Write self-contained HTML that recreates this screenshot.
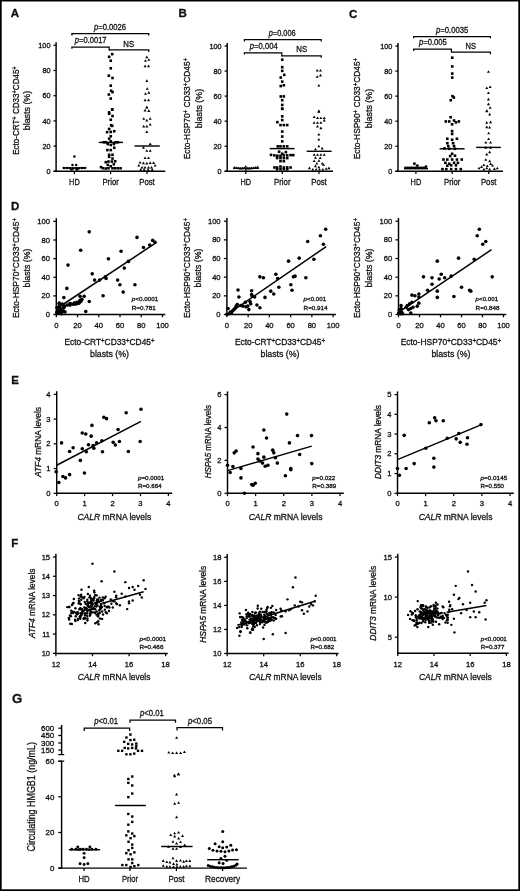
<!DOCTYPE html>
<html><head><meta charset="utf-8"><style>
html,body{margin:0;padding:0;background:#fff;}
svg{display:block;}
text{font-family:"Liberation Sans", sans-serif;fill:#111;stroke:#111;stroke-width:0.3px;}
</style></head><body>
<svg width="520" height="891" viewBox="0 0 520 891">
<defs><filter id="bl" x="0" y="0" width="1" height="1"><feGaussianBlur stdDeviation="0.22"/></filter></defs><rect width="520" height="891" fill="#fff"/>
<g filter="url(#bl)"><rect x="0" y="0" width="520" height="1.5" fill="#000"/>
<rect x="0" y="0" width="1.7" height="891" fill="#000"/>
<rect x="518.3" y="0" width="1.7" height="891" fill="#000"/>
<rect x="0" y="889.3" width="520" height="1.7" fill="#000"/>
<text x="10.8" y="17.3" font-size="11.5" font-weight="bold">A</text>
<text x="178.6" y="17.3" font-size="11.5" font-weight="bold">B</text>
<text x="349" y="17.5" font-size="11.5" font-weight="bold">C</text>
<text x="11" y="210.4" font-size="11.5" font-weight="bold">D</text>
<text x="11.2" y="383.9" font-size="11.5" font-weight="bold">E</text>
<text x="11.2" y="546.5" font-size="11.5" font-weight="bold">F</text>
<text x="12" y="702.8" font-size="13.2" font-weight="bold">G</text>
<line x1="56.1" y1="42.3" x2="56.1" y2="171.8" stroke="#000" stroke-width="1.45"/>
<line x1="53.5" y1="171.3" x2="165.3" y2="171.3" stroke="#000" stroke-width="1.45"/>
<line x1="53.5" y1="171.3" x2="56.1" y2="171.3" stroke="#000" stroke-width="1.25"/>
<text x="50.5" y="173.9" font-size="7.3" text-anchor="end">0</text>
<line x1="53.5" y1="146.1" x2="56.1" y2="146.1" stroke="#000" stroke-width="1.25"/>
<text x="50.5" y="148.7" font-size="7.3" text-anchor="end">20</text>
<line x1="53.5" y1="120.9" x2="56.1" y2="120.9" stroke="#000" stroke-width="1.25"/>
<text x="50.5" y="123.5" font-size="7.3" text-anchor="end">40</text>
<line x1="53.5" y1="95.7" x2="56.1" y2="95.7" stroke="#000" stroke-width="1.25"/>
<text x="50.5" y="98.3" font-size="7.3" text-anchor="end">60</text>
<line x1="53.5" y1="70.5" x2="56.1" y2="70.5" stroke="#000" stroke-width="1.25"/>
<text x="50.5" y="73.1" font-size="7.3" text-anchor="end">80</text>
<line x1="53.5" y1="45.3" x2="56.1" y2="45.3" stroke="#000" stroke-width="1.25"/>
<text x="50.5" y="47.9" font-size="7.3" text-anchor="end">100</text>
<line x1="74.4" y1="171.3" x2="74.4" y2="174.1" stroke="#000" stroke-width="1.25"/>
<text x="74.4" y="184.5" font-size="9.4" text-anchor="middle" textLength="10.6" lengthAdjust="spacingAndGlyphs">HD</text>
<line x1="110.6" y1="171.3" x2="110.6" y2="174.1" stroke="#000" stroke-width="1.25"/>
<text x="110.6" y="184.5" font-size="9.4" text-anchor="middle" textLength="16.4" lengthAdjust="spacingAndGlyphs">Prior</text>
<line x1="147" y1="171.3" x2="147" y2="174.1" stroke="#000" stroke-width="1.25"/>
<text x="147" y="184.5" font-size="9.4" text-anchor="middle" textLength="15.6" lengthAdjust="spacingAndGlyphs">Post</text>
<text x="18.6" y="110.5" font-size="9.6" text-anchor="middle" textLength="88.5" lengthAdjust="spacingAndGlyphs" transform="rotate(-90 18.6 110.5)">Ecto-CRT<tspan baseline-shift="30%" font-size="72%">+</tspan> CD33<tspan baseline-shift="30%" font-size="72%">+</tspan>CD45<tspan baseline-shift="30%" font-size="72%">+</tspan></text>
<text x="30.2" y="110.5" font-size="9.6" text-anchor="middle" textLength="39.5" lengthAdjust="spacingAndGlyphs" transform="rotate(-90 30.2 110.5)">blasts (%)</text>
<polyline points="71.9,35.4 71.9,33.6 148.8,33.6 148.8,35.4" fill="none" stroke="#000" stroke-width="1.25"/>
<text x="94" y="30.2" font-size="8.6" textLength="32" lengthAdjust="spacingAndGlyphs"><tspan font-style="italic">p</tspan>=0.0026</text>
<polyline points="71.9,48.8 71.9,47 109.2,47 109.2,50.8" fill="none" stroke="#000" stroke-width="1.25"/>
<text x="74.8" y="42.8" font-size="8.6" textLength="31.8" lengthAdjust="spacingAndGlyphs"><tspan font-style="italic">p</tspan>=0.0017</text>
<polyline points="109.2,49.9 109.2,49.9 148.8,49.9 148.8,51.9" fill="none" stroke="#000" stroke-width="1.25"/>
<text x="123.3" y="47.2" font-size="8.6" textLength="10.8" lengthAdjust="spacingAndGlyphs">NS</text>
<line x1="62.5" y1="167.9" x2="86.5" y2="167.9" stroke="#000" stroke-width="1.45"/>
<line x1="98.8" y1="142.4" x2="123" y2="142.4" stroke="#000" stroke-width="1.45"/>
<line x1="134.5" y1="146" x2="159.8" y2="146" stroke="#000" stroke-width="1.45"/>
<circle cx="74.4" cy="156.4" r="1.25"/>
<circle cx="72.5" cy="164.9" r="1.25"/>
<circle cx="76.2" cy="164.9" r="1.25"/>
<circle cx="64" cy="167.9" r="1.25"/>
<circle cx="67" cy="167.9" r="1.25"/>
<circle cx="70" cy="168.3" r="1.25"/>
<circle cx="73" cy="168.6" r="1.25"/>
<circle cx="76" cy="168.6" r="1.25"/>
<circle cx="79" cy="168.3" r="1.25"/>
<circle cx="82" cy="167.9" r="1.25"/>
<circle cx="84.5" cy="167.9" r="1.25"/>
<circle cx="71.5" cy="169.5" r="1.25"/>
<circle cx="77" cy="169.5" r="1.25"/>
<rect x="110.93" y="52.85" width="2.6" height="2.6"/>
<rect x="107.83" y="55.54" width="2.6" height="2.6"/>
<rect x="109.45" y="59.45" width="2.6" height="2.6"/>
<rect x="109.45" y="66.98" width="2.6" height="2.6"/>
<rect x="107.56" y="74.39" width="2.6" height="2.6"/>
<rect x="111.2" y="76.67" width="2.6" height="2.6"/>
<rect x="109.45" y="84.35" width="2.6" height="2.6"/>
<rect x="109.85" y="89.46" width="2.6" height="2.6"/>
<rect x="111.2" y="90.81" width="2.6" height="2.6"/>
<rect x="107.56" y="93.23" width="2.6" height="2.6"/>
<rect x="109.45" y="97.27" width="2.6" height="2.6"/>
<rect x="110.93" y="108.03" width="2.6" height="2.6"/>
<rect x="110.93" y="108.41" width="2.6" height="2.6"/>
<rect x="107.83" y="111.1" width="2.6" height="2.6"/>
<rect x="107.83" y="112.45" width="2.6" height="2.6"/>
<rect x="111.2" y="114.74" width="2.6" height="2.6"/>
<rect x="109.45" y="118.5" width="2.6" height="2.6"/>
<rect x="109.85" y="123.89" width="2.6" height="2.6"/>
<rect x="110.93" y="124.56" width="2.6" height="2.6"/>
<rect x="107.83" y="127.66" width="2.6" height="2.6"/>
<rect x="105.81" y="130.89" width="2.6" height="2.6"/>
<rect x="109.45" y="130.62" width="2.6" height="2.6"/>
<rect x="112.95" y="129.94" width="2.6" height="2.6"/>
<rect x="109.45" y="134.92" width="2.6" height="2.6"/>
<rect x="107.83" y="137.35" width="2.6" height="2.6"/>
<rect x="102.45" y="140.98" width="2.6" height="2.6"/>
<rect x="104.47" y="140.98" width="2.6" height="2.6"/>
<rect x="109.45" y="140.04" width="2.6" height="2.6"/>
<rect x="114.56" y="140.98" width="2.6" height="2.6"/>
<rect x="116.58" y="140.98" width="2.6" height="2.6"/>
<rect x="106.49" y="142.73" width="2.6" height="2.6"/>
<rect x="109.45" y="143.67" width="2.6" height="2.6"/>
<rect x="112.54" y="142.73" width="2.6" height="2.6"/>
<rect x="112.95" y="146.5" width="2.6" height="2.6"/>
<rect x="106.08" y="148.79" width="2.6" height="2.6"/>
<rect x="109.45" y="148.79" width="2.6" height="2.6"/>
<rect x="107.83" y="153.5" width="2.6" height="2.6"/>
<rect x="111.2" y="153.5" width="2.6" height="2.6"/>
<rect x="107.83" y="155.52" width="2.6" height="2.6"/>
<rect x="111.2" y="157.27" width="2.6" height="2.6"/>
<rect x="104.47" y="160.9" width="2.6" height="2.6"/>
<rect x="107.16" y="160.23" width="2.6" height="2.6"/>
<rect x="110.52" y="160.23" width="2.6" height="2.6"/>
<rect x="113.89" y="159.96" width="2.6" height="2.6"/>
<rect x="106.49" y="163.59" width="2.6" height="2.6"/>
<rect x="112.54" y="162.92" width="2.6" height="2.6"/>
<rect x="109.45" y="164.94" width="2.6" height="2.6"/>
<rect x="99.76" y="165.88" width="2.6" height="2.6"/>
<rect x="101.78" y="166.96" width="2.6" height="2.6"/>
<rect x="104.47" y="167.23" width="2.6" height="2.6"/>
<rect x="107.16" y="166.96" width="2.6" height="2.6"/>
<rect x="111.2" y="166.96" width="2.6" height="2.6"/>
<rect x="113.89" y="166.96" width="2.6" height="2.6"/>
<rect x="116.58" y="166.96" width="2.6" height="2.6"/>
<rect x="119.27" y="166.96" width="2.6" height="2.6"/>
<path d="M145.32 58.15L146.82 55.54L148.32 58.15Z"/>
<path d="M143.97 61.78L145.47 59.17L146.97 61.78Z"/>
<path d="M147.34 60.84L148.84 58.23L150.34 60.84Z"/>
<path d="M143.57 67.17L145.07 64.56L146.57 67.17Z"/>
<path d="M147.07 67.17L148.57 64.56L150.07 67.17Z"/>
<path d="M145.32 81.97L146.82 79.36L148.32 81.97Z"/>
<path d="M145.72 89.78L147.22 87.17L148.72 89.78Z"/>
<path d="M143.97 94.76L145.47 92.15L146.97 94.76Z"/>
<path d="M147.34 93.68L148.84 91.07L150.34 93.68Z"/>
<path d="M143.57 101.22L145.07 98.61L146.57 101.22Z"/>
<path d="M147.07 101.22L148.57 98.61L150.07 101.22Z"/>
<path d="M145.32 108.49L146.82 105.88L148.32 108.49Z"/>
<path d="M145.32 108.32L146.82 105.71L148.32 108.32Z"/>
<path d="M143.57 111.42L145.07 108.81L146.57 111.42Z"/>
<path d="M147.34 111.96L148.84 109.35L150.34 111.96Z"/>
<path d="M142.22 119.76L143.72 117.15L145.22 119.76Z"/>
<path d="M145.32 121.38L146.82 118.77L148.32 121.38Z"/>
<path d="M148.68 119.76L150.18 117.15L151.68 119.76Z"/>
<path d="M142.22 127.44L143.72 124.83L145.22 127.44Z"/>
<path d="M145.32 127.44L146.82 124.83L148.32 127.44Z"/>
<path d="M148.68 125.55L150.18 122.94L151.68 125.55Z"/>
<path d="M145.32 132.95L146.82 130.34L148.32 132.95Z"/>
<path d="M148.68 145.07L150.18 142.46L151.68 145.07Z"/>
<path d="M141.95 148.7L143.45 146.09L144.95 148.7Z"/>
<path d="M145.32 151.8L146.82 149.19L148.32 151.8Z"/>
<path d="M148.68 151.8L150.18 149.19L151.68 151.8Z"/>
<path d="M143.57 159.06L145.07 156.45L146.57 159.06Z"/>
<path d="M147.07 159.06L148.57 156.45L150.07 159.06Z"/>
<path d="M138.59 163.51L140.09 160.9L141.59 163.51Z"/>
<path d="M141.95 164.18L143.45 161.57L144.95 164.18Z"/>
<path d="M145.32 164.45L146.82 161.84L148.32 164.45Z"/>
<path d="M148.68 163.91L150.18 161.3L151.68 163.91Z"/>
<path d="M152.05 163.91L153.55 161.3L155.05 163.91Z"/>
<path d="M137.24 166.6L138.74 163.99L140.24 166.6Z"/>
<path d="M140.61 168.49L142.11 165.88L143.61 168.49Z"/>
<path d="M143.57 168.49L145.07 165.88L146.57 168.49Z"/>
<path d="M147.07 168.49L148.57 165.88L150.07 168.49Z"/>
<path d="M150.03 168.49L151.53 165.88L153.03 168.49Z"/>
<path d="M153.66 166.6L155.16 163.99L156.66 166.6Z"/>
<path d="M139.26 170.64L140.76 168.03L142.26 170.64Z"/>
<path d="M142.63 170.64L144.13 168.03L145.63 170.64Z"/>
<path d="M146.66 170.64L148.16 168.03L149.66 170.64Z"/>
<path d="M150.7 170.64L152.2 168.03L153.7 170.64Z"/>
<line x1="227.2" y1="43" x2="227.2" y2="171.8" stroke="#000" stroke-width="1.45"/>
<line x1="224.6" y1="171.3" x2="333" y2="171.3" stroke="#000" stroke-width="1.45"/>
<line x1="224.6" y1="171.3" x2="227.2" y2="171.3" stroke="#000" stroke-width="1.25"/>
<text x="221.6" y="173.9" font-size="7.3" text-anchor="end">0</text>
<line x1="224.6" y1="146.24" x2="227.2" y2="146.24" stroke="#000" stroke-width="1.25"/>
<text x="221.6" y="148.84" font-size="7.3" text-anchor="end">20</text>
<line x1="224.6" y1="121.18" x2="227.2" y2="121.18" stroke="#000" stroke-width="1.25"/>
<text x="221.6" y="123.78" font-size="7.3" text-anchor="end">40</text>
<line x1="224.6" y1="96.12" x2="227.2" y2="96.12" stroke="#000" stroke-width="1.25"/>
<text x="221.6" y="98.72" font-size="7.3" text-anchor="end">60</text>
<line x1="224.6" y1="71.06" x2="227.2" y2="71.06" stroke="#000" stroke-width="1.25"/>
<text x="221.6" y="73.66" font-size="7.3" text-anchor="end">80</text>
<line x1="224.6" y1="46" x2="227.2" y2="46" stroke="#000" stroke-width="1.25"/>
<text x="221.6" y="48.6" font-size="7.3" text-anchor="end">100</text>
<line x1="245.8" y1="171.3" x2="245.8" y2="174.1" stroke="#000" stroke-width="1.25"/>
<text x="245.8" y="184.5" font-size="9.4" text-anchor="middle" textLength="10.6" lengthAdjust="spacingAndGlyphs">HD</text>
<line x1="282.3" y1="171.3" x2="282.3" y2="174.1" stroke="#000" stroke-width="1.25"/>
<text x="282.3" y="184.5" font-size="9.4" text-anchor="middle" textLength="16.4" lengthAdjust="spacingAndGlyphs">Prior</text>
<line x1="319" y1="171.3" x2="319" y2="174.1" stroke="#000" stroke-width="1.25"/>
<text x="319" y="184.5" font-size="9.4" text-anchor="middle" textLength="15.6" lengthAdjust="spacingAndGlyphs">Post</text>
<text x="190.2" y="108.6" font-size="9.6" text-anchor="middle" textLength="101.5" lengthAdjust="spacingAndGlyphs" transform="rotate(-90 190.2 108.6)">Ecto-HSP70<tspan baseline-shift="30%" font-size="72%">+</tspan> CD33<tspan baseline-shift="30%" font-size="72%">+</tspan>CD45<tspan baseline-shift="30%" font-size="72%">+</tspan></text>
<text x="201.8" y="108.6" font-size="9.6" text-anchor="middle" textLength="39.5" lengthAdjust="spacingAndGlyphs" transform="rotate(-90 201.8 108.6)">blasts (%)</text>
<polyline points="244.4,41.5 244.4,39.7 321.2,39.7 321.2,41.5" fill="none" stroke="#000" stroke-width="1.25"/>
<text x="268.7" y="36.3" font-size="8.6" textLength="27" lengthAdjust="spacingAndGlyphs"><tspan font-style="italic">p</tspan>=0.006</text>
<polyline points="244.4,54.6 244.4,52.8 281.8,52.8 281.8,56.4" fill="none" stroke="#000" stroke-width="1.25"/>
<text x="249.8" y="49.2" font-size="8.6" textLength="28" lengthAdjust="spacingAndGlyphs"><tspan font-style="italic">p</tspan>=0.004</text>
<polyline points="281.8,55.8 281.8,55.8 321.2,55.8 321.2,57.8" fill="none" stroke="#000" stroke-width="1.25"/>
<text x="296.3" y="52" font-size="8.6" textLength="10.8" lengthAdjust="spacingAndGlyphs">NS</text>
<line x1="233" y1="168.2" x2="259" y2="168.2" stroke="#000" stroke-width="1.45"/>
<line x1="269.7" y1="148.6" x2="294.6" y2="148.6" stroke="#000" stroke-width="1.45"/>
<line x1="306.7" y1="151.3" x2="331.6" y2="151.3" stroke="#000" stroke-width="1.45"/>
<path d="M233.1 168.42L234.5 165.98L235.9 168.42Z"/>
<path d="M235.1 168.82L236.5 166.38L237.9 168.82Z"/>
<path d="M237.1 169.22L238.5 166.78L239.9 169.22Z"/>
<path d="M239.1 169.42L240.5 166.98L241.9 169.42Z"/>
<path d="M241.1 169.42L242.5 166.98L243.9 169.42Z"/>
<path d="M243 169.02L244.4 166.58L245.8 169.02Z"/>
<path d="M244.4 167.62L245.8 165.18L247.2 167.62Z"/>
<path d="M244.4 170.62L245.8 168.18L247.2 170.62Z"/>
<path d="M246.1 169.42L247.5 166.98L248.9 169.42Z"/>
<path d="M248.1 169.42L249.5 166.98L250.9 169.42Z"/>
<path d="M250.1 169.22L251.5 166.78L252.9 169.22Z"/>
<path d="M252.1 168.82L253.5 166.38L254.9 168.82Z"/>
<path d="M254.1 168.42L255.5 165.98L256.9 168.42Z"/>
<path d="M256.2 167.92L257.6 165.48L259 167.92Z"/>
<rect x="280.93" y="58.39" width="2.6" height="2.6"/>
<rect x="280.93" y="65.93" width="2.6" height="2.6"/>
<rect x="280.93" y="69.56" width="2.6" height="2.6"/>
<rect x="282.95" y="73.6" width="2.6" height="2.6"/>
<rect x="279.45" y="76.29" width="2.6" height="2.6"/>
<rect x="280.93" y="80.33" width="2.6" height="2.6"/>
<rect x="282.54" y="83.96" width="2.6" height="2.6"/>
<rect x="279.45" y="84.77" width="2.6" height="2.6"/>
<rect x="279.45" y="95.13" width="2.6" height="2.6"/>
<rect x="282.54" y="95.13" width="2.6" height="2.6"/>
<rect x="280.93" y="98.9" width="2.6" height="2.6"/>
<rect x="280.93" y="103.61" width="2.6" height="2.6"/>
<rect x="280.93" y="107.65" width="2.6" height="2.6"/>
<rect x="280.93" y="107.37" width="2.6" height="2.6"/>
<rect x="280.93" y="115.04" width="2.6" height="2.6"/>
<rect x="280.93" y="118.81" width="2.6" height="2.6"/>
<rect x="276.08" y="120.83" width="2.6" height="2.6"/>
<rect x="279.18" y="123.79" width="2.6" height="2.6"/>
<rect x="282.54" y="123.79" width="2.6" height="2.6"/>
<rect x="285.91" y="123.79" width="2.6" height="2.6"/>
<rect x="280.93" y="130.25" width="2.6" height="2.6"/>
<rect x="280.93" y="135.23" width="2.6" height="2.6"/>
<rect x="280.93" y="140.08" width="2.6" height="2.6"/>
<rect x="276.49" y="145.06" width="2.6" height="2.6"/>
<rect x="279.18" y="145.06" width="2.6" height="2.6"/>
<rect x="282.54" y="145.06" width="2.6" height="2.6"/>
<rect x="285.91" y="145.06" width="2.6" height="2.6"/>
<rect x="277.83" y="150.44" width="2.6" height="2.6"/>
<rect x="280.93" y="152.46" width="2.6" height="2.6"/>
<rect x="284.56" y="150.85" width="2.6" height="2.6"/>
<rect x="269.76" y="153.54" width="2.6" height="2.6"/>
<rect x="273.12" y="154.08" width="2.6" height="2.6"/>
<rect x="276.08" y="154.48" width="2.6" height="2.6"/>
<rect x="279.18" y="154.48" width="2.6" height="2.6"/>
<rect x="282.54" y="154.08" width="2.6" height="2.6"/>
<rect x="285.91" y="154.08" width="2.6" height="2.6"/>
<rect x="289.27" y="153.81" width="2.6" height="2.6"/>
<rect x="291.96" y="153.81" width="2.6" height="2.6"/>
<rect x="275.81" y="156.77" width="2.6" height="2.6"/>
<rect x="279.18" y="156.77" width="2.6" height="2.6"/>
<rect x="282.54" y="156.77" width="2.6" height="2.6"/>
<rect x="285.91" y="156.77" width="2.6" height="2.6"/>
<rect x="279.18" y="159.86" width="2.6" height="2.6"/>
<rect x="282.54" y="159.86" width="2.6" height="2.6"/>
<rect x="273.12" y="166.19" width="2.6" height="2.6"/>
<rect x="275.81" y="166.19" width="2.6" height="2.6"/>
<rect x="279.18" y="165.25" width="2.6" height="2.6"/>
<rect x="282.54" y="166.19" width="2.6" height="2.6"/>
<rect x="285.91" y="166.19" width="2.6" height="2.6"/>
<rect x="289.27" y="166.19" width="2.6" height="2.6"/>
<rect x="275.81" y="167.94" width="2.6" height="2.6"/>
<rect x="279.18" y="167.94" width="2.6" height="2.6"/>
<rect x="282.54" y="167.94" width="2.6" height="2.6"/>
<rect x="285.91" y="167.94" width="2.6" height="2.6"/>
<path d="M315.72 71.49L317.22 68.88L318.72 71.49Z"/>
<path d="M318.95 71.49L320.45 68.88L321.95 71.49Z"/>
<path d="M315.72 77.82L317.22 75.21L318.72 77.82Z"/>
<path d="M318.95 76.47L320.45 73.86L321.95 76.47Z"/>
<path d="M317.34 86.57L318.84 83.96L320.34 86.57Z"/>
<path d="M317.34 112.14L318.84 109.53L320.34 112.14Z"/>
<path d="M317.34 112.67L318.84 110.06L320.34 112.67Z"/>
<path d="M312.63 118.05L314.13 115.44L315.63 118.05Z"/>
<path d="M315.99 119L317.49 116.39L318.99 119Z"/>
<path d="M319.35 119L320.85 116.39L322.35 119Z"/>
<path d="M322.72 119L324.22 116.39L325.72 119Z"/>
<path d="M312.63 123.84L314.13 121.23L315.63 123.84Z"/>
<path d="M315.99 123.84L317.49 121.23L318.99 123.84Z"/>
<path d="M319.35 123.84L320.85 121.23L322.35 123.84Z"/>
<path d="M322.72 121.42L324.22 118.81L325.72 121.42Z"/>
<path d="M315.99 127.47L317.49 124.86L318.99 127.47Z"/>
<path d="M319.35 129.22L320.85 126.61L322.35 129.22Z"/>
<path d="M317.34 135.55L318.84 132.94L320.34 135.55Z"/>
<path d="M317.34 140.53L318.84 137.92L320.34 140.53Z"/>
<path d="M317.34 147.26L318.84 144.65L320.34 147.26Z"/>
<path d="M313.97 150.35L315.47 147.74L316.97 150.35Z"/>
<path d="M320.7 149.41L322.2 146.8L323.7 149.41Z"/>
<path d="M312.63 155.74L314.13 153.13L315.63 155.74Z"/>
<path d="M315.99 155.74L317.49 153.13L318.99 155.74Z"/>
<path d="M319.35 155.74L320.85 153.13L322.35 155.74Z"/>
<path d="M322.72 155.74L324.22 153.13L325.72 155.74Z"/>
<path d="M313.97 158.83L315.47 156.22L316.97 158.83Z"/>
<path d="M318.68 159.1L320.18 156.49L321.68 159.1Z"/>
<path d="M312.63 162.06L314.13 159.45L315.63 162.06Z"/>
<path d="M317.34 161.79L318.84 159.18L320.34 161.79Z"/>
<path d="M315.32 164.49L316.82 161.88L318.32 164.49Z"/>
<path d="M320.7 164.49L322.2 161.88L323.7 164.49Z"/>
<path d="M313.97 167.18L315.47 164.57L316.97 167.18Z"/>
<path d="M317.34 168.26L318.84 165.65L320.34 168.26Z"/>
<path d="M322.05 165.83L323.55 163.22L325.05 165.83Z"/>
<path d="M307.91 169.2L309.41 166.59L310.91 169.2Z"/>
<path d="M311.28 170.54L312.78 167.93L314.28 170.54Z"/>
<path d="M314.64 170.54L316.14 167.93L317.64 170.54Z"/>
<path d="M318.01 170.54L319.51 167.93L321.01 170.54Z"/>
<path d="M321.37 170.54L322.87 167.93L324.37 170.54Z"/>
<path d="M324.74 169.87L326.24 167.26L327.74 169.87Z"/>
<path d="M327.43 169.2L328.93 166.59L330.43 169.2Z"/>
<line x1="398" y1="43" x2="398" y2="171.8" stroke="#000" stroke-width="1.45"/>
<line x1="395.4" y1="171.3" x2="503" y2="171.3" stroke="#000" stroke-width="1.45"/>
<line x1="395.4" y1="171.3" x2="398" y2="171.3" stroke="#000" stroke-width="1.25"/>
<text x="392.4" y="173.9" font-size="7.3" text-anchor="end">0</text>
<line x1="395.4" y1="146.24" x2="398" y2="146.24" stroke="#000" stroke-width="1.25"/>
<text x="392.4" y="148.84" font-size="7.3" text-anchor="end">20</text>
<line x1="395.4" y1="121.18" x2="398" y2="121.18" stroke="#000" stroke-width="1.25"/>
<text x="392.4" y="123.78" font-size="7.3" text-anchor="end">40</text>
<line x1="395.4" y1="96.12" x2="398" y2="96.12" stroke="#000" stroke-width="1.25"/>
<text x="392.4" y="98.72" font-size="7.3" text-anchor="end">60</text>
<line x1="395.4" y1="71.06" x2="398" y2="71.06" stroke="#000" stroke-width="1.25"/>
<text x="392.4" y="73.66" font-size="7.3" text-anchor="end">80</text>
<line x1="395.4" y1="46" x2="398" y2="46" stroke="#000" stroke-width="1.25"/>
<text x="392.4" y="48.6" font-size="7.3" text-anchor="end">100</text>
<line x1="415.9" y1="171.3" x2="415.9" y2="174.1" stroke="#000" stroke-width="1.25"/>
<text x="415.9" y="184.5" font-size="9.4" text-anchor="middle" textLength="10.6" lengthAdjust="spacingAndGlyphs">HD</text>
<line x1="452.2" y1="171.3" x2="452.2" y2="174.1" stroke="#000" stroke-width="1.25"/>
<text x="452.2" y="184.5" font-size="9.4" text-anchor="middle" textLength="16.4" lengthAdjust="spacingAndGlyphs">Prior</text>
<line x1="488.7" y1="171.3" x2="488.7" y2="174.1" stroke="#000" stroke-width="1.25"/>
<text x="488.7" y="184.5" font-size="9.4" text-anchor="middle" textLength="15.6" lengthAdjust="spacingAndGlyphs">Post</text>
<text x="360.2" y="108.6" font-size="9.6" text-anchor="middle" textLength="101.5" lengthAdjust="spacingAndGlyphs" transform="rotate(-90 360.2 108.6)">Ecto-HSP90<tspan baseline-shift="30%" font-size="72%">+</tspan> CD33<tspan baseline-shift="30%" font-size="72%">+</tspan>CD45<tspan baseline-shift="30%" font-size="72%">+</tspan></text>
<text x="371.8" y="108.6" font-size="9.6" text-anchor="middle" textLength="39.5" lengthAdjust="spacingAndGlyphs" transform="rotate(-90 371.8 108.6)">blasts (%)</text>
<polyline points="413.7,38.3 413.7,36.5 490.4,36.5 490.4,38.3" fill="none" stroke="#000" stroke-width="1.25"/>
<text x="436" y="32.6" font-size="8.6" textLength="32.3" lengthAdjust="spacingAndGlyphs"><tspan font-style="italic">p</tspan>=0.0035</text>
<polyline points="413.7,51 413.7,49.2 451.4,49.2 451.4,52.6" fill="none" stroke="#000" stroke-width="1.25"/>
<text x="419" y="45.4" font-size="8.6" textLength="27.8" lengthAdjust="spacingAndGlyphs"><tspan font-style="italic">p</tspan>=0.005</text>
<polyline points="451.4,52.2 451.4,52.2 490.4,52.2 490.4,54.2" fill="none" stroke="#000" stroke-width="1.25"/>
<text x="465.6" y="48.8" font-size="8.6" textLength="10.4" lengthAdjust="spacingAndGlyphs">NS</text>
<line x1="404" y1="168.6" x2="428" y2="168.6" stroke="#000" stroke-width="1.45"/>
<line x1="439.6" y1="148.8" x2="464.6" y2="148.8" stroke="#000" stroke-width="1.45"/>
<line x1="476.2" y1="147.4" x2="500.8" y2="147.4" stroke="#000" stroke-width="1.45"/>
<circle cx="414.4" cy="163.7" r="1.45"/>
<circle cx="417.3" cy="165.6" r="1.45"/>
<circle cx="426" cy="166.7" r="1.45"/>
<circle cx="405.5" cy="167.9" r="1.45"/>
<circle cx="407.5" cy="167.9" r="1.45"/>
<circle cx="409.5" cy="167.9" r="1.45"/>
<circle cx="411.5" cy="167.9" r="1.45"/>
<circle cx="413.5" cy="167.9" r="1.45"/>
<circle cx="415.5" cy="167.9" r="1.45"/>
<circle cx="417.5" cy="167.9" r="1.45"/>
<circle cx="419.5" cy="167.9" r="1.45"/>
<circle cx="421.5" cy="167.9" r="1.45"/>
<circle cx="423.5" cy="167.9" r="1.45"/>
<circle cx="425.5" cy="167.9" r="1.45"/>
<rect x="450.93" y="56.39" width="2.6" height="2.6"/>
<rect x="450.93" y="65.14" width="2.6" height="2.6"/>
<rect x="450.93" y="72.27" width="2.6" height="2.6"/>
<rect x="450.93" y="76.31" width="2.6" height="2.6"/>
<rect x="451.2" y="94.88" width="2.6" height="2.6"/>
<rect x="452.54" y="96.23" width="2.6" height="2.6"/>
<rect x="449.45" y="98.92" width="2.6" height="2.6"/>
<rect x="449.28" y="115.93" width="2.6" height="2.6"/>
<rect x="444.47" y="120.16" width="2.6" height="2.6"/>
<rect x="447.93" y="120.16" width="2.6" height="2.6"/>
<rect x="452.74" y="119.2" width="2.6" height="2.6"/>
<rect x="457.55" y="120.16" width="2.6" height="2.6"/>
<rect x="450.82" y="123.05" width="2.6" height="2.6"/>
<rect x="454.66" y="121.12" width="2.6" height="2.6"/>
<rect x="450.82" y="129.78" width="2.6" height="2.6"/>
<rect x="450.82" y="132.66" width="2.6" height="2.6"/>
<rect x="446.01" y="137.47" width="2.6" height="2.6"/>
<rect x="450.82" y="138.43" width="2.6" height="2.6"/>
<rect x="455.62" y="137.47" width="2.6" height="2.6"/>
<rect x="446.01" y="141.89" width="2.6" height="2.6"/>
<rect x="451.78" y="141.89" width="2.6" height="2.6"/>
<rect x="446.97" y="144.78" width="2.6" height="2.6"/>
<rect x="452.74" y="144.78" width="2.6" height="2.6"/>
<rect x="450.82" y="152.47" width="2.6" height="2.6"/>
<rect x="453.7" y="154.39" width="2.6" height="2.6"/>
<rect x="448.89" y="154.78" width="2.6" height="2.6"/>
<rect x="442.16" y="158.24" width="2.6" height="2.6"/>
<rect x="446.01" y="158.24" width="2.6" height="2.6"/>
<rect x="450.82" y="158.24" width="2.6" height="2.6"/>
<rect x="455.62" y="158.24" width="2.6" height="2.6"/>
<rect x="460.43" y="158.24" width="2.6" height="2.6"/>
<rect x="444.08" y="161.51" width="2.6" height="2.6"/>
<rect x="447.93" y="162.47" width="2.6" height="2.6"/>
<rect x="452.74" y="161.51" width="2.6" height="2.6"/>
<rect x="456.58" y="161.51" width="2.6" height="2.6"/>
<rect x="446.01" y="164.39" width="2.6" height="2.6"/>
<rect x="449.85" y="164.01" width="2.6" height="2.6"/>
<rect x="454.66" y="164.01" width="2.6" height="2.6"/>
<rect x="441.2" y="167.85" width="2.6" height="2.6"/>
<rect x="445.05" y="167.85" width="2.6" height="2.6"/>
<rect x="449.85" y="167.85" width="2.6" height="2.6"/>
<rect x="454.66" y="167.85" width="2.6" height="2.6"/>
<rect x="459.47" y="167.85" width="2.6" height="2.6"/>
<rect x="443.12" y="147.08" width="2.6" height="2.6"/>
<rect x="447.93" y="147.47" width="2.6" height="2.6"/>
<rect x="453.7" y="147.47" width="2.6" height="2.6"/>
<path d="M486.93 72.86L488.43 70.25L489.93 72.86Z"/>
<path d="M485.32 89.01L486.82 86.4L488.32 89.01Z"/>
<path d="M488.68 88.07L490.18 85.46L491.68 88.07Z"/>
<path d="M486.93 93.99L488.43 91.38L489.93 93.99Z"/>
<path d="M486.93 100.45L488.43 97.84L489.93 100.45Z"/>
<path d="M486.93 105.16L488.43 102.55L489.93 105.16Z"/>
<path d="M488.68 108.79L490.18 106.18L491.68 108.79Z"/>
<path d="M485.32 111.89L486.82 109.28L488.32 111.89Z"/>
<path d="M485.23 112.19L486.73 109.58L488.23 112.19Z"/>
<path d="M488.12 115.46L489.62 112.85L491.12 115.46Z"/>
<path d="M485.23 123.73L486.73 121.12L488.23 123.73Z"/>
<path d="M489.08 123.15L490.58 120.54L492.08 123.15Z"/>
<path d="M485.23 128.15L486.73 125.54L488.23 128.15Z"/>
<path d="M488.12 128.54L489.62 125.93L491.12 128.54Z"/>
<path d="M487.15 134.31L488.65 131.69L490.15 134.31Z"/>
<path d="M487.15 140.07L488.65 137.46L490.15 140.07Z"/>
<path d="M484.27 143.54L485.77 140.93L487.27 143.54Z"/>
<path d="M489.08 143.54L490.58 140.93L492.08 143.54Z"/>
<path d="M484.27 148.73L485.77 146.12L487.27 148.73Z"/>
<path d="M489.08 148.73L490.58 146.12L492.08 148.73Z"/>
<path d="M485.23 155.46L486.73 152.85L488.23 155.46Z"/>
<path d="M488.12 153.15L489.62 150.54L491.12 153.15Z"/>
<path d="M484.27 160.84L485.77 158.23L487.27 160.84Z"/>
<path d="M488.12 162.19L489.62 159.58L491.12 162.19Z"/>
<path d="M482.35 166.04L483.85 163.43L485.35 166.04Z"/>
<path d="M489.08 165.07L490.58 162.46L492.08 165.07Z"/>
<path d="M485.81 167L487.31 164.39L488.81 167Z"/>
<path d="M491 166.61L492.5 164L494 166.61Z"/>
<path d="M477.54 169.31L479.04 166.69L480.54 169.31Z"/>
<path d="M482.35 170.46L483.85 167.85L485.35 170.46Z"/>
<path d="M488.12 170.46L489.62 167.85L491.12 170.46Z"/>
<path d="M492.92 169.88L494.42 167.27L495.92 169.88Z"/>
<path d="M495.81 169.31L497.31 166.69L498.81 169.31Z"/>
<path d="M480.04 167.96L481.54 165.35L483.04 167.96Z"/>
<path d="M485.23 169.31L486.73 166.69L488.23 169.31Z"/>
<line x1="56.3" y1="218.2" x2="56.3" y2="315.1" stroke="#000" stroke-width="1.45"/>
<line x1="55.7" y1="314.5" x2="165.3" y2="314.5" stroke="#000" stroke-width="1.45"/>
<line x1="56.3" y1="314.5" x2="56.3" y2="317.3" stroke="#000" stroke-width="1.25"/>
<text x="56.3" y="327.5" font-size="7.6" text-anchor="middle">0</text>
<line x1="77.54" y1="314.5" x2="77.54" y2="317.3" stroke="#000" stroke-width="1.25"/>
<text x="77.54" y="327.5" font-size="7.6" text-anchor="middle">20</text>
<line x1="98.78" y1="314.5" x2="98.78" y2="317.3" stroke="#000" stroke-width="1.25"/>
<text x="98.78" y="327.5" font-size="7.6" text-anchor="middle">40</text>
<line x1="120.02" y1="314.5" x2="120.02" y2="317.3" stroke="#000" stroke-width="1.25"/>
<text x="120.02" y="327.5" font-size="7.6" text-anchor="middle">60</text>
<line x1="141.26" y1="314.5" x2="141.26" y2="317.3" stroke="#000" stroke-width="1.25"/>
<text x="141.26" y="327.5" font-size="7.6" text-anchor="middle">80</text>
<line x1="162.5" y1="314.5" x2="162.5" y2="317.3" stroke="#000" stroke-width="1.25"/>
<text x="162.5" y="327.5" font-size="7.6" text-anchor="middle">100</text>
<line x1="53.3" y1="314.5" x2="56.3" y2="314.5" stroke="#000" stroke-width="1.25"/>
<text x="50" y="317.05" font-size="7.6" text-anchor="end">0</text>
<line x1="53.3" y1="295.88" x2="56.3" y2="295.88" stroke="#000" stroke-width="1.25"/>
<text x="50" y="298.43" font-size="7.6" text-anchor="end">20</text>
<line x1="53.3" y1="277.26" x2="56.3" y2="277.26" stroke="#000" stroke-width="1.25"/>
<text x="50" y="279.81" font-size="7.6" text-anchor="end">40</text>
<line x1="53.3" y1="258.64" x2="56.3" y2="258.64" stroke="#000" stroke-width="1.25"/>
<text x="50" y="261.19" font-size="7.6" text-anchor="end">60</text>
<line x1="53.3" y1="240.02" x2="56.3" y2="240.02" stroke="#000" stroke-width="1.25"/>
<text x="50" y="242.57" font-size="7.6" text-anchor="end">80</text>
<line x1="53.3" y1="221.4" x2="56.3" y2="221.4" stroke="#000" stroke-width="1.25"/>
<text x="50" y="223.95" font-size="7.6" text-anchor="end">100</text>
<text x="109.5" y="344.8" font-size="9.8" text-anchor="middle" textLength="90" lengthAdjust="spacingAndGlyphs">Ecto-CRT<tspan baseline-shift="30%" font-size="72%">+</tspan>CD33<tspan baseline-shift="30%" font-size="72%">+</tspan>CD45<tspan baseline-shift="30%" font-size="72%">+</tspan></text><text x="109.5" y="344.8" font-size="9.8" text-anchor="middle" textLength="39.0" lengthAdjust="spacingAndGlyphs" transform="translate(0 12.0)">blasts (%)</text>
<text x="18.8" y="268" font-size="9.6" text-anchor="middle" textLength="100" lengthAdjust="spacingAndGlyphs" transform="rotate(-90 18.8 268)">Ecto-HSP70<tspan baseline-shift="30%" font-size="72%">+</tspan>CD33<tspan baseline-shift="30%" font-size="72%">+</tspan>CD45<tspan baseline-shift="30%" font-size="72%">+</tspan></text><text x="18.8" y="268" font-size="9.6" text-anchor="middle" textLength="39.0" lengthAdjust="spacingAndGlyphs" transform="rotate(-90 18.8 268) translate(0 11.6)">blasts (%)</text>
<text x="131.7" y="301.2" font-size="6.2" textLength="26.6" lengthAdjust="spacingAndGlyphs"><tspan font-style="italic">p</tspan>&lt;0.0001</text>
<text x="131.7" y="309.5" font-size="6.2" textLength="24" lengthAdjust="spacingAndGlyphs">R=0.781</text>
<circle cx="89.23" cy="231.85" r="1.8"/>
<circle cx="137.01" cy="237.39" r="1.8"/>
<circle cx="152.7" cy="240.39" r="1.8"/>
<circle cx="149.7" cy="245" r="1.8"/>
<circle cx="143.47" cy="247.54" r="1.8"/>
<circle cx="80.69" cy="250.31" r="1.8"/>
<circle cx="121.08" cy="251.23" r="1.8"/>
<circle cx="108.39" cy="258.85" r="1.8"/>
<circle cx="128.47" cy="261.39" r="1.8"/>
<circle cx="68" cy="265.08" r="1.8"/>
<circle cx="124.31" cy="268.08" r="1.8"/>
<circle cx="92.23" cy="273.85" r="1.8"/>
<circle cx="94.54" cy="280.08" r="1.8"/>
<circle cx="99.62" cy="280.08" r="1.8"/>
<circle cx="105.39" cy="276.85" r="1.8"/>
<circle cx="106.08" cy="278.47" r="1.8"/>
<circle cx="117.62" cy="280.08" r="1.8"/>
<circle cx="119.93" cy="284.7" r="1.8"/>
<circle cx="134.93" cy="284.7" r="1.8"/>
<circle cx="123.16" cy="292.08" r="1.8"/>
<circle cx="66.85" cy="288.39" r="1.8"/>
<circle cx="80" cy="296.24" r="1.8"/>
<circle cx="84.16" cy="296.24" r="1.8"/>
<circle cx="103.08" cy="295.78" r="1.8"/>
<circle cx="63.85" cy="297.62" r="1.8"/>
<circle cx="89.23" cy="301.55" r="1.8"/>
<circle cx="80" cy="300.39" r="1.8"/>
<circle cx="78.85" cy="303.16" r="1.8"/>
<circle cx="75.39" cy="303.16" r="1.8"/>
<circle cx="73.08" cy="304.31" r="1.8"/>
<circle cx="70.77" cy="303.85" r="1.8"/>
<circle cx="67.31" cy="305.01" r="1.8"/>
<circle cx="59.23" cy="303.85" r="1.8"/>
<circle cx="63.85" cy="306.16" r="1.8"/>
<circle cx="60.39" cy="309.62" r="1.8"/>
<circle cx="58.08" cy="311.93" r="1.8"/>
<circle cx="62.69" cy="310.78" r="1.8"/>
<circle cx="85.77" cy="311.47" r="1.8"/>
<circle cx="56.92" cy="313.08" r="1.8"/>
<circle cx="77.23" cy="302.24" r="1.8"/>
<circle cx="81.85" cy="299.24" r="1.8"/>
<circle cx="58.08" cy="307.31" r="1.8"/>
<circle cx="61.54" cy="313.78" r="1.8"/>
<circle cx="65" cy="311.93" r="1.8"/>
<circle cx="155.01" cy="242.23" r="1.8"/>
<circle cx="59.23" cy="303.08" r="1.8"/>
<circle cx="62.31" cy="304.15" r="1.8"/>
<circle cx="64.62" cy="306.15" r="1.8"/>
<circle cx="70" cy="303.54" r="1.8"/>
<circle cx="70" cy="305.08" r="1.8"/>
<circle cx="74.31" cy="303.08" r="1.8"/>
<circle cx="75.38" cy="304.15" r="1.8"/>
<circle cx="77.69" cy="303.54" r="1.8"/>
<circle cx="79.23" cy="302.31" r="1.8"/>
<circle cx="80.77" cy="301.54" r="1.8"/>
<circle cx="81.54" cy="300" r="1.8"/>
<circle cx="56.92" cy="307.69" r="1.8"/>
<circle cx="59.23" cy="306.92" r="1.8"/>
<circle cx="57.69" cy="310.77" r="1.8"/>
<circle cx="56.92" cy="312.31" r="1.8"/>
<circle cx="59.23" cy="312.31" r="1.8"/>
<circle cx="61.54" cy="311.23" r="1.8"/>
<circle cx="63.85" cy="311.23" r="1.8"/>
<circle cx="60.77" cy="308.46" r="1.8"/>
<circle cx="63.85" cy="307.69" r="1.8"/>
<line x1="56.9" y1="308.5" x2="156.2" y2="242.7" stroke="#000" stroke-width="1.5"/>
<line x1="226.9" y1="218" x2="226.9" y2="315.1" stroke="#000" stroke-width="1.45"/>
<line x1="226.3" y1="314.5" x2="335.9" y2="314.5" stroke="#000" stroke-width="1.45"/>
<line x1="226.9" y1="314.5" x2="226.9" y2="317.3" stroke="#000" stroke-width="1.25"/>
<text x="226.9" y="327.5" font-size="7.6" text-anchor="middle">0</text>
<line x1="248.14" y1="314.5" x2="248.14" y2="317.3" stroke="#000" stroke-width="1.25"/>
<text x="248.14" y="327.5" font-size="7.6" text-anchor="middle">20</text>
<line x1="269.38" y1="314.5" x2="269.38" y2="317.3" stroke="#000" stroke-width="1.25"/>
<text x="269.38" y="327.5" font-size="7.6" text-anchor="middle">40</text>
<line x1="290.62" y1="314.5" x2="290.62" y2="317.3" stroke="#000" stroke-width="1.25"/>
<text x="290.62" y="327.5" font-size="7.6" text-anchor="middle">60</text>
<line x1="311.86" y1="314.5" x2="311.86" y2="317.3" stroke="#000" stroke-width="1.25"/>
<text x="311.86" y="327.5" font-size="7.6" text-anchor="middle">80</text>
<line x1="333.1" y1="314.5" x2="333.1" y2="317.3" stroke="#000" stroke-width="1.25"/>
<text x="333.1" y="327.5" font-size="7.6" text-anchor="middle">100</text>
<line x1="223.9" y1="314.5" x2="226.9" y2="314.5" stroke="#000" stroke-width="1.25"/>
<text x="220.6" y="317.05" font-size="7.6" text-anchor="end">0</text>
<line x1="223.9" y1="295.84" x2="226.9" y2="295.84" stroke="#000" stroke-width="1.25"/>
<text x="220.6" y="298.39" font-size="7.6" text-anchor="end">20</text>
<line x1="223.9" y1="277.18" x2="226.9" y2="277.18" stroke="#000" stroke-width="1.25"/>
<text x="220.6" y="279.73" font-size="7.6" text-anchor="end">40</text>
<line x1="223.9" y1="258.52" x2="226.9" y2="258.52" stroke="#000" stroke-width="1.25"/>
<text x="220.6" y="261.07" font-size="7.6" text-anchor="end">60</text>
<line x1="223.9" y1="239.86" x2="226.9" y2="239.86" stroke="#000" stroke-width="1.25"/>
<text x="220.6" y="242.41" font-size="7.6" text-anchor="end">80</text>
<line x1="223.9" y1="221.2" x2="226.9" y2="221.2" stroke="#000" stroke-width="1.25"/>
<text x="220.6" y="223.75" font-size="7.6" text-anchor="end">100</text>
<text x="280" y="344.8" font-size="9.8" text-anchor="middle" textLength="90" lengthAdjust="spacingAndGlyphs">Ecto-CRT<tspan baseline-shift="30%" font-size="72%">+</tspan>CD33<tspan baseline-shift="30%" font-size="72%">+</tspan>CD45<tspan baseline-shift="30%" font-size="72%">+</tspan></text><text x="280" y="344.8" font-size="9.8" text-anchor="middle" textLength="39.0" lengthAdjust="spacingAndGlyphs" transform="translate(0 12.0)">blasts (%)</text>
<text x="189.8" y="268" font-size="9.6" text-anchor="middle" textLength="100" lengthAdjust="spacingAndGlyphs" transform="rotate(-90 189.8 268)">Ecto-HSP90<tspan baseline-shift="30%" font-size="72%">+</tspan>CD33<tspan baseline-shift="30%" font-size="72%">+</tspan>CD45<tspan baseline-shift="30%" font-size="72%">+</tspan></text><text x="189.8" y="268" font-size="9.6" text-anchor="middle" textLength="39.0" lengthAdjust="spacingAndGlyphs" transform="rotate(-90 189.8 268) translate(0 11.6)">blasts (%)</text>
<text x="303.6" y="301.2" font-size="6.2" textLength="22.6" lengthAdjust="spacingAndGlyphs"><tspan font-style="italic">p</tspan>&lt;0.001</text>
<text x="303.6" y="309.5" font-size="6.2" textLength="24" lengthAdjust="spacingAndGlyphs">R=0.914</text>
<circle cx="325.7" cy="229.31" r="1.8"/>
<circle cx="320.39" cy="235.77" r="1.8"/>
<circle cx="323.39" cy="244.31" r="1.8"/>
<circle cx="307.7" cy="241.54" r="1.8"/>
<circle cx="313.93" cy="259.31" r="1.8"/>
<circle cx="299.16" cy="258.16" r="1.8"/>
<circle cx="288.54" cy="261.16" r="1.8"/>
<circle cx="275.85" cy="274.31" r="1.8"/>
<circle cx="277.7" cy="278.47" r="1.8"/>
<circle cx="259.93" cy="276.85" r="1.8"/>
<circle cx="263.39" cy="277.77" r="1.8"/>
<circle cx="293.39" cy="276.85" r="1.8"/>
<circle cx="295.01" cy="276.16" r="1.8"/>
<circle cx="305.85" cy="277.77" r="1.8"/>
<circle cx="290.85" cy="284.7" r="1.8"/>
<circle cx="278.85" cy="287.24" r="1.8"/>
<circle cx="292.01" cy="290.24" r="1.8"/>
<circle cx="270.77" cy="291.16" r="1.8"/>
<circle cx="273.77" cy="293.93" r="1.8"/>
<circle cx="265" cy="297.39" r="1.8"/>
<circle cx="238" cy="290.01" r="1.8"/>
<circle cx="238.92" cy="296.93" r="1.8"/>
<circle cx="251.62" cy="290.7" r="1.8"/>
<circle cx="251.62" cy="294.62" r="1.8"/>
<circle cx="252.31" cy="296.24" r="1.8"/>
<circle cx="254.62" cy="296.93" r="1.8"/>
<circle cx="256.93" cy="305.01" r="1.8"/>
<circle cx="259.93" cy="307.78" r="1.8"/>
<circle cx="250" cy="301.55" r="1.8"/>
<circle cx="250.69" cy="303.85" r="1.8"/>
<circle cx="245.39" cy="302.24" r="1.8"/>
<circle cx="248.85" cy="309.62" r="1.8"/>
<circle cx="246.08" cy="306.85" r="1.8"/>
<circle cx="240.77" cy="305.47" r="1.8"/>
<circle cx="243.08" cy="306.16" r="1.8"/>
<circle cx="236.16" cy="306.16" r="1.8"/>
<circle cx="235" cy="308.47" r="1.8"/>
<circle cx="233.85" cy="309.62" r="1.8"/>
<circle cx="232.69" cy="310.78" r="1.8"/>
<circle cx="230.39" cy="311.93" r="1.8"/>
<circle cx="229.23" cy="313.78" r="1.8"/>
<circle cx="228.08" cy="308.47" r="1.8"/>
<circle cx="231.54" cy="313.08" r="1.8"/>
<circle cx="226.92" cy="314.24" r="1.8"/>
<circle cx="237.31" cy="304.55" r="1.8"/>
<circle cx="247.69" cy="306.16" r="1.8"/>
<line x1="226.9" y1="314.7" x2="326.16" y2="246.62" stroke="#000" stroke-width="1.5"/>
<line x1="398.5" y1="218" x2="398.5" y2="315.1" stroke="#000" stroke-width="1.45"/>
<line x1="397.9" y1="314.5" x2="506.3" y2="314.5" stroke="#000" stroke-width="1.45"/>
<line x1="398.5" y1="314.5" x2="398.5" y2="317.3" stroke="#000" stroke-width="1.25"/>
<text x="398.5" y="327.5" font-size="7.6" text-anchor="middle">0</text>
<line x1="419.5" y1="314.5" x2="419.5" y2="317.3" stroke="#000" stroke-width="1.25"/>
<text x="419.5" y="327.5" font-size="7.6" text-anchor="middle">20</text>
<line x1="440.5" y1="314.5" x2="440.5" y2="317.3" stroke="#000" stroke-width="1.25"/>
<text x="440.5" y="327.5" font-size="7.6" text-anchor="middle">40</text>
<line x1="461.5" y1="314.5" x2="461.5" y2="317.3" stroke="#000" stroke-width="1.25"/>
<text x="461.5" y="327.5" font-size="7.6" text-anchor="middle">60</text>
<line x1="482.5" y1="314.5" x2="482.5" y2="317.3" stroke="#000" stroke-width="1.25"/>
<text x="482.5" y="327.5" font-size="7.6" text-anchor="middle">80</text>
<line x1="503.5" y1="314.5" x2="503.5" y2="317.3" stroke="#000" stroke-width="1.25"/>
<text x="503.5" y="327.5" font-size="7.6" text-anchor="middle">100</text>
<line x1="395.5" y1="314.5" x2="398.5" y2="314.5" stroke="#000" stroke-width="1.25"/>
<text x="392.2" y="317.05" font-size="7.6" text-anchor="end">0</text>
<line x1="395.5" y1="295.84" x2="398.5" y2="295.84" stroke="#000" stroke-width="1.25"/>
<text x="392.2" y="298.39" font-size="7.6" text-anchor="end">20</text>
<line x1="395.5" y1="277.18" x2="398.5" y2="277.18" stroke="#000" stroke-width="1.25"/>
<text x="392.2" y="279.73" font-size="7.6" text-anchor="end">40</text>
<line x1="395.5" y1="258.52" x2="398.5" y2="258.52" stroke="#000" stroke-width="1.25"/>
<text x="392.2" y="261.07" font-size="7.6" text-anchor="end">60</text>
<line x1="395.5" y1="239.86" x2="398.5" y2="239.86" stroke="#000" stroke-width="1.25"/>
<text x="392.2" y="242.41" font-size="7.6" text-anchor="end">80</text>
<line x1="395.5" y1="221.2" x2="398.5" y2="221.2" stroke="#000" stroke-width="1.25"/>
<text x="392.2" y="223.75" font-size="7.6" text-anchor="end">100</text>
<text x="450.9" y="344.8" font-size="9.8" text-anchor="middle" textLength="100.5" lengthAdjust="spacingAndGlyphs">Ecto-HSP70<tspan baseline-shift="30%" font-size="72%">+</tspan>CD33<tspan baseline-shift="30%" font-size="72%">+</tspan>CD45<tspan baseline-shift="30%" font-size="72%">+</tspan></text><text x="450.9" y="344.8" font-size="9.8" text-anchor="middle" textLength="39.0" lengthAdjust="spacingAndGlyphs" transform="translate(0 12.0)">blasts (%)</text>
<text x="360.1" y="268" font-size="9.6" text-anchor="middle" textLength="100" lengthAdjust="spacingAndGlyphs" transform="rotate(-90 360.1 268)">Ecto-HSP90<tspan baseline-shift="30%" font-size="72%">+</tspan>CD33<tspan baseline-shift="30%" font-size="72%">+</tspan>CD45<tspan baseline-shift="30%" font-size="72%">+</tspan></text><text x="360.1" y="268" font-size="9.6" text-anchor="middle" textLength="39.0" lengthAdjust="spacingAndGlyphs" transform="rotate(-90 360.1 268) translate(0 11.6)">blasts (%)</text>
<text x="475.6" y="301.2" font-size="6.2" textLength="22.6" lengthAdjust="spacingAndGlyphs"><tspan font-style="italic">p</tspan>&lt;0.001</text>
<text x="475.6" y="309.5" font-size="6.2" textLength="24" lengthAdjust="spacingAndGlyphs">R=0.848</text>
<circle cx="479.31" cy="229.31" r="1.8"/>
<circle cx="477.24" cy="235.77" r="1.8"/>
<circle cx="485.78" cy="241.54" r="1.8"/>
<circle cx="482.78" cy="244.31" r="1.8"/>
<circle cx="458.54" cy="258.16" r="1.8"/>
<circle cx="474.24" cy="259.31" r="1.8"/>
<circle cx="437.31" cy="261.16" r="1.8"/>
<circle cx="423.46" cy="276.85" r="1.8"/>
<circle cx="432" cy="277.77" r="1.8"/>
<circle cx="439.16" cy="278.93" r="1.8"/>
<circle cx="441.23" cy="274.31" r="1.8"/>
<circle cx="444.7" cy="277.77" r="1.8"/>
<circle cx="451.16" cy="276.16" r="1.8"/>
<circle cx="432" cy="284.24" r="1.8"/>
<circle cx="427.62" cy="290.24" r="1.8"/>
<circle cx="437.31" cy="291.16" r="1.8"/>
<circle cx="437.31" cy="297.39" r="1.8"/>
<circle cx="453.93" cy="296.47" r="1.8"/>
<circle cx="461.54" cy="287.24" r="1.8"/>
<circle cx="469.62" cy="290.24" r="1.8"/>
<circle cx="470.78" cy="291.16" r="1.8"/>
<circle cx="492.24" cy="276.85" r="1.8"/>
<circle cx="418.85" cy="293.93" r="1.8"/>
<circle cx="418.85" cy="296.93" r="1.8"/>
<circle cx="411.92" cy="295.08" r="1.8"/>
<circle cx="414.92" cy="295.78" r="1.8"/>
<circle cx="418.85" cy="303.16" r="1.8"/>
<circle cx="417.23" cy="306.16" r="1.8"/>
<circle cx="411.92" cy="302.24" r="1.8"/>
<circle cx="409.62" cy="303.85" r="1.8"/>
<circle cx="407.31" cy="305.47" r="1.8"/>
<circle cx="410.77" cy="308.47" r="1.8"/>
<circle cx="406.16" cy="307.31" r="1.8"/>
<circle cx="401.08" cy="305.47" r="1.8"/>
<circle cx="401.08" cy="308.47" r="1.8"/>
<circle cx="399.23" cy="310.08" r="1.8"/>
<circle cx="401.54" cy="311.93" r="1.8"/>
<circle cx="400.39" cy="313.78" r="1.8"/>
<circle cx="398.77" cy="313.08" r="1.8"/>
<circle cx="402.69" cy="313.78" r="1.8"/>
<circle cx="410.77" cy="313.08" r="1.8"/>
<circle cx="408.46" cy="309.62" r="1.8"/>
<circle cx="413.08" cy="307.31" r="1.8"/>
<line x1="399.23" y1="311.93" x2="491.55" y2="249.62" stroke="#000" stroke-width="1.5"/>
<line x1="56.7" y1="391.2" x2="56.7" y2="493.9" stroke="#000" stroke-width="1.45"/>
<line x1="56.1" y1="493.3" x2="172.2" y2="493.3" stroke="#000" stroke-width="1.45"/>
<line x1="56.7" y1="493.3" x2="56.7" y2="496.1" stroke="#000" stroke-width="1.25"/>
<text x="56.7" y="506.3" font-size="7.6" text-anchor="middle">0</text>
<line x1="84.62" y1="493.3" x2="84.62" y2="496.1" stroke="#000" stroke-width="1.25"/>
<text x="84.62" y="506.3" font-size="7.6" text-anchor="middle">1</text>
<line x1="112.55" y1="493.3" x2="112.55" y2="496.1" stroke="#000" stroke-width="1.25"/>
<text x="112.55" y="506.3" font-size="7.6" text-anchor="middle">2</text>
<line x1="140.48" y1="493.3" x2="140.48" y2="496.1" stroke="#000" stroke-width="1.25"/>
<text x="140.48" y="506.3" font-size="7.6" text-anchor="middle">3</text>
<line x1="168.4" y1="493.3" x2="168.4" y2="496.1" stroke="#000" stroke-width="1.25"/>
<text x="168.4" y="506.3" font-size="7.6" text-anchor="middle">4</text>
<line x1="53.7" y1="493.3" x2="56.7" y2="493.3" stroke="#000" stroke-width="1.25"/>
<text x="50.6" y="495.85" font-size="7.6" text-anchor="end">0</text>
<line x1="53.7" y1="468.57" x2="56.7" y2="468.57" stroke="#000" stroke-width="1.25"/>
<text x="50.6" y="471.12" font-size="7.6" text-anchor="end">1</text>
<line x1="53.7" y1="443.85" x2="56.7" y2="443.85" stroke="#000" stroke-width="1.25"/>
<text x="50.6" y="446.4" font-size="7.6" text-anchor="end">2</text>
<line x1="53.7" y1="419.12" x2="56.7" y2="419.12" stroke="#000" stroke-width="1.25"/>
<text x="50.6" y="421.68" font-size="7.6" text-anchor="end">3</text>
<line x1="53.7" y1="394.4" x2="56.7" y2="394.4" stroke="#000" stroke-width="1.25"/>
<text x="50.6" y="396.95" font-size="7.6" text-anchor="end">4</text>
<text x="114.35" y="519.5" font-size="9.8" text-anchor="middle" textLength="73.8" lengthAdjust="spacingAndGlyphs"><tspan font-style="italic">CALR</tspan> mRNA levels</text>
<text x="40.5" y="442" font-size="9.6" text-anchor="middle" textLength="70" lengthAdjust="spacingAndGlyphs" transform="rotate(-90 40.5 442)"><tspan font-style="italic">ATF4</tspan> mRNA levels</text>
<text x="138" y="480.2" font-size="6.2" textLength="26.2" lengthAdjust="spacingAndGlyphs"><tspan font-style="italic">p</tspan>=0.0001</text>
<text x="138" y="488.2" font-size="6.2" textLength="23.6" lengthAdjust="spacingAndGlyphs">R=0.664</text>
<circle cx="140.97" cy="409.23" r="1.8"/>
<circle cx="126.16" cy="412.73" r="1.8"/>
<circle cx="103.81" cy="417.31" r="1.8"/>
<circle cx="106.51" cy="418.66" r="1.8"/>
<circle cx="91.97" cy="425.39" r="1.8"/>
<circle cx="118.08" cy="429.43" r="1.8"/>
<circle cx="82.27" cy="432.93" r="1.8"/>
<circle cx="85.77" cy="434" r="1.8"/>
<circle cx="91.16" cy="436.16" r="1.8"/>
<circle cx="61.54" cy="442.89" r="1.8"/>
<circle cx="73.12" cy="447.74" r="1.8"/>
<circle cx="69.62" cy="451.51" r="1.8"/>
<circle cx="82.27" cy="448.81" r="1.8"/>
<circle cx="86.31" cy="451.77" r="1.8"/>
<circle cx="88.47" cy="444.77" r="1.8"/>
<circle cx="93.04" cy="445.58" r="1.8"/>
<circle cx="93.85" cy="448.27" r="1.8"/>
<circle cx="96.54" cy="442.89" r="1.8"/>
<circle cx="101.93" cy="440.74" r="1.8"/>
<circle cx="102.47" cy="451.77" r="1.8"/>
<circle cx="113.24" cy="442.35" r="1.8"/>
<circle cx="115.39" cy="445.04" r="1.8"/>
<circle cx="119.43" cy="441.54" r="1.8"/>
<circle cx="140.16" cy="441.54" r="1.8"/>
<circle cx="128.31" cy="451.51" r="1.8"/>
<circle cx="80.39" cy="460.39" r="1.8"/>
<circle cx="84.43" cy="473.05" r="1.8"/>
<circle cx="56.16" cy="471.7" r="1.8"/>
<circle cx="62.89" cy="476.55" r="1.8"/>
<circle cx="65.58" cy="477.89" r="1.8"/>
<circle cx="69.62" cy="474.66" r="1.8"/>
<circle cx="58.85" cy="482.47" r="1.8"/>
<line x1="56.69" y1="465.24" x2="140.97" y2="421.35" stroke="#000" stroke-width="1.5"/>
<line x1="227.5" y1="391.4" x2="227.5" y2="493.9" stroke="#000" stroke-width="1.45"/>
<line x1="226.9" y1="493.3" x2="343.8" y2="493.3" stroke="#000" stroke-width="1.45"/>
<line x1="227.5" y1="493.3" x2="227.5" y2="496.1" stroke="#000" stroke-width="1.25"/>
<text x="227.5" y="506.3" font-size="7.6" text-anchor="middle">0</text>
<line x1="255.62" y1="493.3" x2="255.62" y2="496.1" stroke="#000" stroke-width="1.25"/>
<text x="255.62" y="506.3" font-size="7.6" text-anchor="middle">1</text>
<line x1="283.75" y1="493.3" x2="283.75" y2="496.1" stroke="#000" stroke-width="1.25"/>
<text x="283.75" y="506.3" font-size="7.6" text-anchor="middle">2</text>
<line x1="311.88" y1="493.3" x2="311.88" y2="496.1" stroke="#000" stroke-width="1.25"/>
<text x="311.88" y="506.3" font-size="7.6" text-anchor="middle">3</text>
<line x1="340" y1="493.3" x2="340" y2="496.1" stroke="#000" stroke-width="1.25"/>
<text x="340" y="506.3" font-size="7.6" text-anchor="middle">4</text>
<line x1="224.5" y1="493.3" x2="227.5" y2="493.3" stroke="#000" stroke-width="1.25"/>
<text x="221.4" y="495.85" font-size="7.6" text-anchor="end">0</text>
<line x1="224.5" y1="460.4" x2="227.5" y2="460.4" stroke="#000" stroke-width="1.25"/>
<text x="221.4" y="462.95" font-size="7.6" text-anchor="end">2</text>
<line x1="224.5" y1="427.5" x2="227.5" y2="427.5" stroke="#000" stroke-width="1.25"/>
<text x="221.4" y="430.05" font-size="7.6" text-anchor="end">4</text>
<line x1="224.5" y1="394.6" x2="227.5" y2="394.6" stroke="#000" stroke-width="1.25"/>
<text x="221.4" y="397.15" font-size="7.6" text-anchor="end">6</text>
<text x="285.55" y="519.5" font-size="9.8" text-anchor="middle" textLength="73.8" lengthAdjust="spacingAndGlyphs"><tspan font-style="italic">CALR</tspan> mRNA levels</text>
<text x="211" y="441.7" font-size="9.6" text-anchor="middle" textLength="73.3" lengthAdjust="spacingAndGlyphs" transform="rotate(-90 211 441.7)"><tspan font-style="italic">HSPA5</tspan> mRNA levels</text>
<text x="312.3" y="480.2" font-size="6.2" textLength="23" lengthAdjust="spacingAndGlyphs"><tspan font-style="italic">p</tspan>=0.022</text>
<text x="312.3" y="488.2" font-size="6.2" textLength="24" lengthAdjust="spacingAndGlyphs">R=0.389</text>
<circle cx="286.74" cy="414.08" r="1.8"/>
<circle cx="263.85" cy="429.96" r="1.8"/>
<circle cx="266.54" cy="438.04" r="1.8"/>
<circle cx="297.51" cy="435.62" r="1.8"/>
<circle cx="311.51" cy="435.62" r="1.8"/>
<circle cx="289.43" cy="442.89" r="1.8"/>
<circle cx="253.08" cy="446.93" r="1.8"/>
<circle cx="236.12" cy="450.97" r="1.8"/>
<circle cx="234.23" cy="452.85" r="1.8"/>
<circle cx="257.93" cy="453.66" r="1.8"/>
<circle cx="272.74" cy="450.16" r="1.8"/>
<circle cx="273.81" cy="452.85" r="1.8"/>
<circle cx="263.85" cy="457.16" r="1.8"/>
<circle cx="275.43" cy="457.7" r="1.8"/>
<circle cx="257.93" cy="459.04" r="1.8"/>
<circle cx="259.81" cy="460.93" r="1.8"/>
<circle cx="262.5" cy="463.08" r="1.8"/>
<circle cx="265.2" cy="466.31" r="1.8"/>
<circle cx="267.89" cy="465.24" r="1.8"/>
<circle cx="277.31" cy="463.08" r="1.8"/>
<circle cx="299.66" cy="454.47" r="1.8"/>
<circle cx="311.78" cy="463.62" r="1.8"/>
<circle cx="290.78" cy="468.47" r="1.8"/>
<circle cx="290.78" cy="469.81" r="1.8"/>
<circle cx="227.5" cy="465.24" r="1.8"/>
<circle cx="232.89" cy="466.58" r="1.8"/>
<circle cx="230.19" cy="472.51" r="1.8"/>
<circle cx="240.96" cy="468.47" r="1.8"/>
<circle cx="240.96" cy="477.89" r="1.8"/>
<circle cx="285.39" cy="475.74" r="1.8"/>
<circle cx="253.08" cy="485.16" r="1.8"/>
<circle cx="255.23" cy="483.28" r="1.8"/>
<circle cx="251.73" cy="484.62" r="1.8"/>
<circle cx="244.46" cy="493.24" r="1.8"/>
<line x1="227.5" y1="470.62" x2="311.78" y2="446.12" stroke="#000" stroke-width="1.5"/>
<line x1="397.5" y1="391.4" x2="397.5" y2="493.9" stroke="#000" stroke-width="1.45"/>
<line x1="396.9" y1="493.3" x2="513.8" y2="493.3" stroke="#000" stroke-width="1.45"/>
<line x1="397.5" y1="493.3" x2="397.5" y2="496.1" stroke="#000" stroke-width="1.25"/>
<text x="397.5" y="506.3" font-size="7.6" text-anchor="middle">0</text>
<line x1="425.62" y1="493.3" x2="425.62" y2="496.1" stroke="#000" stroke-width="1.25"/>
<text x="425.62" y="506.3" font-size="7.6" text-anchor="middle">1</text>
<line x1="453.75" y1="493.3" x2="453.75" y2="496.1" stroke="#000" stroke-width="1.25"/>
<text x="453.75" y="506.3" font-size="7.6" text-anchor="middle">2</text>
<line x1="481.88" y1="493.3" x2="481.88" y2="496.1" stroke="#000" stroke-width="1.25"/>
<text x="481.88" y="506.3" font-size="7.6" text-anchor="middle">3</text>
<line x1="510" y1="493.3" x2="510" y2="496.1" stroke="#000" stroke-width="1.25"/>
<text x="510" y="506.3" font-size="7.6" text-anchor="middle">4</text>
<line x1="394.5" y1="493.3" x2="397.5" y2="493.3" stroke="#000" stroke-width="1.25"/>
<text x="391.4" y="495.85" font-size="7.6" text-anchor="end">0</text>
<line x1="394.5" y1="473.56" x2="397.5" y2="473.56" stroke="#000" stroke-width="1.25"/>
<text x="391.4" y="476.11" font-size="7.6" text-anchor="end">1</text>
<line x1="394.5" y1="453.82" x2="397.5" y2="453.82" stroke="#000" stroke-width="1.25"/>
<text x="391.4" y="456.37" font-size="7.6" text-anchor="end">2</text>
<line x1="394.5" y1="434.08" x2="397.5" y2="434.08" stroke="#000" stroke-width="1.25"/>
<text x="391.4" y="436.63" font-size="7.6" text-anchor="end">3</text>
<line x1="394.5" y1="414.34" x2="397.5" y2="414.34" stroke="#000" stroke-width="1.25"/>
<text x="391.4" y="416.89" font-size="7.6" text-anchor="end">4</text>
<line x1="394.5" y1="394.6" x2="397.5" y2="394.6" stroke="#000" stroke-width="1.25"/>
<text x="391.4" y="397.15" font-size="7.6" text-anchor="end">5</text>
<text x="455.55" y="519.5" font-size="9.8" text-anchor="middle" textLength="73.8" lengthAdjust="spacingAndGlyphs"><tspan font-style="italic">CALR</tspan> mRNA levels</text>
<text x="381" y="442" font-size="9.6" text-anchor="middle" textLength="74" lengthAdjust="spacingAndGlyphs" transform="rotate(-90 381 442)"><tspan font-style="italic">DDIT3</tspan> mRNA levels</text>
<text x="480.6" y="480.2" font-size="6.2" textLength="26.6" lengthAdjust="spacingAndGlyphs"><tspan font-style="italic">p</tspan>=0.0145</text>
<text x="480.6" y="488.2" font-size="6.2" textLength="23.4" lengthAdjust="spacingAndGlyphs">R=0.550</text>
<circle cx="480.97" cy="424.58" r="1.8"/>
<circle cx="434.66" cy="417.85" r="1.8"/>
<circle cx="436" cy="420.81" r="1.8"/>
<circle cx="443.27" cy="420.81" r="1.8"/>
<circle cx="429.27" cy="422.7" r="1.8"/>
<circle cx="404.23" cy="435.35" r="1.8"/>
<circle cx="458.89" cy="433.47" r="1.8"/>
<circle cx="456.2" cy="438.85" r="1.8"/>
<circle cx="467.51" cy="437.77" r="1.8"/>
<circle cx="460.24" cy="442.35" r="1.8"/>
<circle cx="466.97" cy="444.24" r="1.8"/>
<circle cx="447.31" cy="438.31" r="1.8"/>
<circle cx="425.77" cy="448.27" r="1.8"/>
<circle cx="433.85" cy="458.24" r="1.8"/>
<circle cx="433.85" cy="467.12" r="1.8"/>
<circle cx="414.19" cy="463.62" r="1.8"/>
<circle cx="406.12" cy="468.47" r="1.8"/>
<circle cx="397.5" cy="468.47" r="1.8"/>
<circle cx="399.39" cy="475.2" r="1.8"/>
<line x1="397.5" y1="459.58" x2="480.97" y2="424.85" stroke="#000" stroke-width="1.5"/>
<line x1="55.9" y1="553.8" x2="55.9" y2="654" stroke="#000" stroke-width="1.45"/>
<line x1="55.3" y1="653.4" x2="167.8" y2="653.4" stroke="#000" stroke-width="1.45"/>
<line x1="55.9" y1="653.4" x2="55.9" y2="656.2" stroke="#000" stroke-width="1.25"/>
<text x="55.9" y="666.9" font-size="7.6" text-anchor="middle">12</text>
<line x1="92.5" y1="653.4" x2="92.5" y2="656.2" stroke="#000" stroke-width="1.25"/>
<text x="92.5" y="666.9" font-size="7.6" text-anchor="middle">14</text>
<line x1="129.1" y1="653.4" x2="129.1" y2="656.2" stroke="#000" stroke-width="1.25"/>
<text x="129.1" y="666.9" font-size="7.6" text-anchor="middle">16</text>
<line x1="165.6" y1="653.4" x2="165.6" y2="656.2" stroke="#000" stroke-width="1.25"/>
<text x="165.6" y="666.9" font-size="7.6" text-anchor="middle">18</text>
<line x1="52.9" y1="653.4" x2="55.9" y2="653.4" stroke="#000" stroke-width="1.25"/>
<text x="50.1" y="655.95" font-size="7.6" text-anchor="end">10</text>
<line x1="52.9" y1="634.12" x2="55.9" y2="634.12" stroke="#000" stroke-width="1.25"/>
<text x="50.1" y="636.67" font-size="7.6" text-anchor="end">11</text>
<line x1="52.9" y1="614.84" x2="55.9" y2="614.84" stroke="#000" stroke-width="1.25"/>
<text x="50.1" y="617.39" font-size="7.6" text-anchor="end">12</text>
<line x1="52.9" y1="595.56" x2="55.9" y2="595.56" stroke="#000" stroke-width="1.25"/>
<text x="50.1" y="598.11" font-size="7.6" text-anchor="end">13</text>
<line x1="52.9" y1="576.28" x2="55.9" y2="576.28" stroke="#000" stroke-width="1.25"/>
<text x="50.1" y="578.83" font-size="7.6" text-anchor="end">14</text>
<line x1="52.9" y1="557" x2="55.9" y2="557" stroke="#000" stroke-width="1.25"/>
<text x="50.1" y="559.55" font-size="7.6" text-anchor="end">15</text>
<text x="114.05" y="680.2" font-size="9.8" text-anchor="middle" textLength="72.7" lengthAdjust="spacingAndGlyphs"><tspan font-style="italic">CALR</tspan> mRNA levels</text>
<text x="35.3" y="603.3" font-size="9.6" text-anchor="middle" textLength="69.4" lengthAdjust="spacingAndGlyphs" transform="rotate(-90 35.3 603.3)"><tspan font-style="italic">ATF4</tspan> mRNA levels</text>
<text x="139.4" y="640.6" font-size="6.2" textLength="26.6" lengthAdjust="spacingAndGlyphs"><tspan font-style="italic">p</tspan>&lt;0.0001</text>
<text x="139.4" y="648.6" font-size="6.2" textLength="24" lengthAdjust="spacingAndGlyphs">R=0.466</text>
<circle cx="75.38" cy="608.2" r="1.22"/>
<circle cx="99.72" cy="609.68" r="1.22"/>
<circle cx="74.23" cy="611.87" r="1.22"/>
<circle cx="94.05" cy="598.5" r="1.22"/>
<circle cx="75.47" cy="621.07" r="1.22"/>
<circle cx="96.55" cy="602.77" r="1.22"/>
<circle cx="105.63" cy="596.84" r="1.22"/>
<circle cx="87.69" cy="610.5" r="1.22"/>
<circle cx="117" cy="604.13" r="1.22"/>
<circle cx="80.19" cy="618.83" r="1.22"/>
<circle cx="89.85" cy="606.79" r="1.22"/>
<circle cx="85.02" cy="609.46" r="1.22"/>
<circle cx="91.8" cy="602.13" r="1.22"/>
<circle cx="100.83" cy="603.86" r="1.22"/>
<circle cx="69.17" cy="607.07" r="1.22"/>
<circle cx="73.23" cy="612.91" r="1.22"/>
<circle cx="72.64" cy="611.7" r="1.22"/>
<circle cx="80.26" cy="608.38" r="1.22"/>
<circle cx="98.04" cy="616.31" r="1.22"/>
<circle cx="85.64" cy="603.73" r="1.22"/>
<circle cx="87.79" cy="605.51" r="1.22"/>
<circle cx="89.94" cy="615.65" r="1.22"/>
<circle cx="94.99" cy="613.04" r="1.22"/>
<circle cx="109.33" cy="607.5" r="1.22"/>
<circle cx="96.33" cy="606.46" r="1.22"/>
<circle cx="99.25" cy="610.47" r="1.22"/>
<circle cx="99.76" cy="606.67" r="1.22"/>
<circle cx="102.66" cy="600.26" r="1.22"/>
<circle cx="90.35" cy="613.82" r="1.22"/>
<circle cx="97.23" cy="602.66" r="1.22"/>
<circle cx="106.81" cy="607.06" r="1.22"/>
<circle cx="94.89" cy="602.87" r="1.22"/>
<circle cx="91.91" cy="605.84" r="1.22"/>
<circle cx="90.8" cy="612.31" r="1.22"/>
<circle cx="77.68" cy="613.66" r="1.22"/>
<circle cx="95.28" cy="595.04" r="1.22"/>
<circle cx="99.52" cy="597.64" r="1.22"/>
<circle cx="97.33" cy="600.86" r="1.22"/>
<circle cx="90.82" cy="601.74" r="1.22"/>
<circle cx="108.26" cy="606.36" r="1.22"/>
<circle cx="81.19" cy="594.7" r="1.22"/>
<circle cx="91.49" cy="600.05" r="1.22"/>
<circle cx="98.39" cy="614.78" r="1.22"/>
<circle cx="90.74" cy="601.9" r="1.22"/>
<circle cx="90.2" cy="614.65" r="1.22"/>
<circle cx="87.57" cy="605.52" r="1.22"/>
<circle cx="101.04" cy="599.96" r="1.22"/>
<circle cx="89.46" cy="597.54" r="1.22"/>
<circle cx="80.46" cy="603.87" r="1.22"/>
<circle cx="101" cy="607.69" r="1.22"/>
<circle cx="69.16" cy="619.48" r="1.22"/>
<circle cx="91.4" cy="603.49" r="1.22"/>
<circle cx="105.78" cy="612.13" r="1.22"/>
<circle cx="88.83" cy="603.13" r="1.22"/>
<circle cx="99.82" cy="612.78" r="1.22"/>
<circle cx="84.28" cy="607.43" r="1.22"/>
<circle cx="116.1" cy="597.33" r="1.22"/>
<circle cx="90.05" cy="595.84" r="1.22"/>
<circle cx="87.91" cy="593.97" r="1.22"/>
<circle cx="81.29" cy="613.47" r="1.22"/>
<circle cx="96.71" cy="595.4" r="1.22"/>
<circle cx="95.98" cy="604.22" r="1.22"/>
<circle cx="68.82" cy="618.06" r="1.22"/>
<circle cx="82.11" cy="613.74" r="1.22"/>
<circle cx="95.24" cy="609.3" r="1.22"/>
<circle cx="97.44" cy="605.59" r="1.22"/>
<circle cx="85.15" cy="608.03" r="1.22"/>
<circle cx="93.51" cy="600.48" r="1.22"/>
<circle cx="83.57" cy="611.09" r="1.22"/>
<circle cx="73.85" cy="599.07" r="1.22"/>
<circle cx="104.73" cy="606" r="1.22"/>
<circle cx="83.56" cy="618.84" r="1.22"/>
<circle cx="90.67" cy="606.13" r="1.22"/>
<circle cx="112.73" cy="600.94" r="1.22"/>
<circle cx="104.26" cy="603.26" r="1.22"/>
<circle cx="71.15" cy="610.65" r="1.22"/>
<circle cx="101.08" cy="601.01" r="1.22"/>
<circle cx="87.42" cy="620.44" r="1.22"/>
<circle cx="95.34" cy="623.2" r="1.22"/>
<circle cx="78.85" cy="600.93" r="1.22"/>
<circle cx="106.83" cy="613.26" r="1.22"/>
<circle cx="71.98" cy="605.08" r="1.22"/>
<circle cx="98.16" cy="613.68" r="1.22"/>
<circle cx="81.19" cy="615.18" r="1.22"/>
<circle cx="75.76" cy="616.27" r="1.22"/>
<circle cx="102.52" cy="599.78" r="1.22"/>
<circle cx="111.36" cy="603.81" r="1.22"/>
<circle cx="87.32" cy="616.05" r="1.22"/>
<circle cx="87.45" cy="618.57" r="1.22"/>
<circle cx="69.31" cy="607.07" r="1.22"/>
<circle cx="104.6" cy="598.19" r="1.22"/>
<circle cx="103.42" cy="602.96" r="1.22"/>
<circle cx="80.93" cy="609.22" r="1.22"/>
<circle cx="84.7" cy="617.62" r="1.22"/>
<circle cx="70.24" cy="623.69" r="1.22"/>
<circle cx="88.74" cy="606.99" r="1.22"/>
<circle cx="83.6" cy="598.26" r="1.22"/>
<circle cx="90.77" cy="603.21" r="1.22"/>
<circle cx="102.17" cy="611.51" r="1.22"/>
<circle cx="67.2" cy="607.11" r="1.22"/>
<circle cx="81.25" cy="599.69" r="1.22"/>
<circle cx="92.51" cy="599.55" r="1.22"/>
<circle cx="97.18" cy="622.34" r="1.22"/>
<circle cx="96.69" cy="611.59" r="1.22"/>
<circle cx="80.51" cy="613.33" r="1.22"/>
<circle cx="97.23" cy="599.45" r="1.22"/>
<circle cx="99.9" cy="618.49" r="1.22"/>
<circle cx="87.69" cy="603.76" r="1.22"/>
<circle cx="80.42" cy="608.1" r="1.22"/>
<circle cx="91.34" cy="599.8" r="1.22"/>
<circle cx="79.79" cy="616.53" r="1.22"/>
<circle cx="80.43" cy="596.47" r="1.22"/>
<circle cx="100.77" cy="606.45" r="1.22"/>
<circle cx="91.28" cy="606.71" r="1.22"/>
<circle cx="91.03" cy="609.26" r="1.22"/>
<circle cx="85.14" cy="618.65" r="1.22"/>
<circle cx="81.76" cy="596.96" r="1.22"/>
<circle cx="94.69" cy="606.34" r="1.22"/>
<circle cx="86.45" cy="608.18" r="1.22"/>
<circle cx="92.68" cy="612.27" r="1.22"/>
<circle cx="90.96" cy="605.81" r="1.22"/>
<circle cx="80.59" cy="616.04" r="1.22"/>
<circle cx="77.85" cy="618.77" r="1.22"/>
<circle cx="98.56" cy="624.19" r="1.22"/>
<circle cx="85.88" cy="613.5" r="1.22"/>
<circle cx="82.01" cy="608.89" r="1.22"/>
<circle cx="101.18" cy="604.81" r="1.22"/>
<circle cx="87.27" cy="613.21" r="1.22"/>
<circle cx="87.39" cy="601.41" r="1.22"/>
<circle cx="84.48" cy="617.94" r="1.22"/>
<circle cx="74.94" cy="619.75" r="1.22"/>
<circle cx="73.56" cy="603.03" r="1.22"/>
<circle cx="92.7" cy="609.11" r="1.22"/>
<circle cx="104.81" cy="609.67" r="1.22"/>
<circle cx="97.06" cy="600.13" r="1.22"/>
<circle cx="71.84" cy="623.91" r="1.22"/>
<circle cx="78.63" cy="603.39" r="1.22"/>
<circle cx="103.02" cy="614.47" r="1.22"/>
<circle cx="100.3" cy="608.55" r="1.22"/>
<circle cx="84.49" cy="613.35" r="1.22"/>
<circle cx="85.25" cy="622.96" r="1.22"/>
<circle cx="77.82" cy="620.1" r="1.22"/>
<circle cx="94.18" cy="590.83" r="1.22"/>
<circle cx="69.92" cy="615.46" r="1.22"/>
<circle cx="78.5" cy="595.11" r="1.22"/>
<circle cx="95.07" cy="612.38" r="1.22"/>
<circle cx="99.07" cy="601.73" r="1.22"/>
<circle cx="70.98" cy="616.18" r="1.22"/>
<circle cx="86.18" cy="608.57" r="1.22"/>
<circle cx="90.25" cy="610.43" r="1.22"/>
<circle cx="90.89" cy="612.2" r="1.22"/>
<circle cx="78.97" cy="598.62" r="1.22"/>
<circle cx="92.76" cy="603.88" r="1.22"/>
<circle cx="71.31" cy="613.29" r="1.22"/>
<circle cx="97.79" cy="616.11" r="1.22"/>
<circle cx="100.84" cy="608.48" r="1.22"/>
<circle cx="93.22" cy="608.19" r="1.22"/>
<circle cx="91.2" cy="598.32" r="1.22"/>
<circle cx="84.38" cy="597.05" r="1.22"/>
<circle cx="80.23" cy="617.23" r="1.22"/>
<circle cx="96.6" cy="614.64" r="1.22"/>
<circle cx="84.74" cy="602.04" r="1.22"/>
<circle cx="102.08" cy="618.9" r="1.22"/>
<circle cx="94.35" cy="592.37" r="1.22"/>
<circle cx="101.91" cy="607.09" r="1.22"/>
<circle cx="82.22" cy="611.88" r="1.22"/>
<circle cx="76.16" cy="612.98" r="1.22"/>
<circle cx="86.75" cy="609.72" r="1.22"/>
<circle cx="101.77" cy="607.05" r="1.22"/>
<circle cx="72.82" cy="603.57" r="1.22"/>
<circle cx="77.04" cy="614.19" r="1.22"/>
<circle cx="87.34" cy="611.12" r="1.22"/>
<circle cx="77.8" cy="612.49" r="1.22"/>
<circle cx="112.76" cy="607.52" r="1.22"/>
<circle cx="87.31" cy="599.8" r="1.22"/>
<circle cx="96.97" cy="600.44" r="1.22"/>
<circle cx="98.26" cy="621.23" r="1.22"/>
<circle cx="79.33" cy="609.25" r="1.22"/>
<circle cx="94.28" cy="596.94" r="1.22"/>
<circle cx="93.95" cy="608.84" r="1.22"/>
<circle cx="89.23" cy="609.67" r="1.22"/>
<circle cx="91.51" cy="602.34" r="1.22"/>
<circle cx="85.08" cy="615.24" r="1.22"/>
<circle cx="79.43" cy="601.75" r="1.22"/>
<circle cx="102.85" cy="597.37" r="1.22"/>
<circle cx="98.2" cy="599.63" r="1.22"/>
<circle cx="88.78" cy="603.02" r="1.22"/>
<circle cx="77.26" cy="612.26" r="1.22"/>
<circle cx="80.76" cy="604.31" r="1.22"/>
<circle cx="82.44" cy="610.38" r="1.22"/>
<circle cx="92.46" cy="563.84" r="1.22"/>
<circle cx="114.4" cy="571.54" r="1.22"/>
<circle cx="101.6" cy="581.17" r="1.22"/>
<circle cx="125.36" cy="582.14" r="1.22"/>
<circle cx="143.64" cy="580.21" r="1.22"/>
<circle cx="88.8" cy="586.95" r="1.22"/>
<circle cx="81.49" cy="589.84" r="1.22"/>
<circle cx="114.4" cy="591.77" r="1.22"/>
<circle cx="121.71" cy="593.69" r="1.22"/>
<circle cx="129.02" cy="587.92" r="1.22"/>
<circle cx="134.5" cy="589.84" r="1.22"/>
<circle cx="138.16" cy="585.99" r="1.22"/>
<circle cx="132.68" cy="586.95" r="1.22"/>
<circle cx="141.82" cy="597.55" r="1.22"/>
<circle cx="129.02" cy="603.32" r="1.22"/>
<circle cx="129.02" cy="601.4" r="1.22"/>
<circle cx="125.36" cy="596.58" r="1.22"/>
<circle cx="119.88" cy="605.25" r="1.22"/>
<circle cx="110.74" cy="599.47" r="1.22"/>
<circle cx="114.4" cy="601.4" r="1.22"/>
<circle cx="145.47" cy="588.88" r="1.22"/>
<circle cx="116.22" cy="595.62" r="1.22"/>
<circle cx="127.19" cy="609.1" r="1.22"/>
<circle cx="107.08" cy="607.18" r="1.22"/>
<circle cx="108.91" cy="611.03" r="1.22"/>
<circle cx="116.22" cy="603.32" r="1.22"/>
<circle cx="139.99" cy="594.66" r="1.22"/>
<circle cx="132.68" cy="600.43" r="1.22"/>
<line x1="103.43" y1="602.94" x2="143.64" y2="591.77" stroke="#000" stroke-width="1.5"/>
<line x1="227.2" y1="554.1" x2="227.2" y2="654.1" stroke="#000" stroke-width="1.45"/>
<line x1="226.6" y1="653.5" x2="338.6" y2="653.5" stroke="#000" stroke-width="1.45"/>
<line x1="227.2" y1="653.5" x2="227.2" y2="656.3" stroke="#000" stroke-width="1.25"/>
<text x="227.2" y="667" font-size="7.6" text-anchor="middle">12</text>
<line x1="263.7" y1="653.5" x2="263.7" y2="656.3" stroke="#000" stroke-width="1.25"/>
<text x="263.7" y="667" font-size="7.6" text-anchor="middle">14</text>
<line x1="300.2" y1="653.5" x2="300.2" y2="656.3" stroke="#000" stroke-width="1.25"/>
<text x="300.2" y="667" font-size="7.6" text-anchor="middle">16</text>
<line x1="336.7" y1="653.5" x2="336.7" y2="656.3" stroke="#000" stroke-width="1.25"/>
<text x="336.7" y="667" font-size="7.6" text-anchor="middle">18</text>
<line x1="224.2" y1="653.5" x2="227.2" y2="653.5" stroke="#000" stroke-width="1.25"/>
<text x="221.4" y="656.05" font-size="7.6" text-anchor="end">10</text>
<line x1="224.2" y1="629.45" x2="227.2" y2="629.45" stroke="#000" stroke-width="1.25"/>
<text x="221.4" y="632" font-size="7.6" text-anchor="end">12</text>
<line x1="224.2" y1="605.4" x2="227.2" y2="605.4" stroke="#000" stroke-width="1.25"/>
<text x="221.4" y="607.95" font-size="7.6" text-anchor="end">14</text>
<line x1="224.2" y1="581.35" x2="227.2" y2="581.35" stroke="#000" stroke-width="1.25"/>
<text x="221.4" y="583.9" font-size="7.6" text-anchor="end">16</text>
<line x1="224.2" y1="557.3" x2="227.2" y2="557.3" stroke="#000" stroke-width="1.25"/>
<text x="221.4" y="559.85" font-size="7.6" text-anchor="end">18</text>
<text x="285.25" y="680.2" font-size="9.8" text-anchor="middle" textLength="72.7" lengthAdjust="spacingAndGlyphs"><tspan font-style="italic">CALR</tspan> mRNA levels</text>
<text x="206.4" y="604.3" font-size="9.6" text-anchor="middle" textLength="76.8" lengthAdjust="spacingAndGlyphs" transform="rotate(-90 206.4 604.3)"><tspan font-style="italic">HSPA5</tspan> mRNA levels</text>
<text x="310.4" y="640.6" font-size="6.2" textLength="26.2" lengthAdjust="spacingAndGlyphs"><tspan font-style="italic">p</tspan>&lt;0.0001</text>
<text x="310.4" y="648.6" font-size="6.2" textLength="23.8" lengthAdjust="spacingAndGlyphs">R=0.682</text>
<circle cx="264.47" cy="618.18" r="1.22"/>
<circle cx="261.18" cy="615.81" r="1.22"/>
<circle cx="253.77" cy="624.33" r="1.22"/>
<circle cx="264.74" cy="619.84" r="1.22"/>
<circle cx="267.66" cy="617.74" r="1.22"/>
<circle cx="240.4" cy="631.3" r="1.22"/>
<circle cx="250.13" cy="632.48" r="1.22"/>
<circle cx="258.31" cy="620.71" r="1.22"/>
<circle cx="268.98" cy="621.06" r="1.22"/>
<circle cx="256.71" cy="616.27" r="1.22"/>
<circle cx="266.93" cy="622.5" r="1.22"/>
<circle cx="275.15" cy="618.05" r="1.22"/>
<circle cx="271.73" cy="617.13" r="1.22"/>
<circle cx="254.73" cy="627.05" r="1.22"/>
<circle cx="257.81" cy="605.77" r="1.22"/>
<circle cx="252.44" cy="612.01" r="1.22"/>
<circle cx="273.11" cy="617.28" r="1.22"/>
<circle cx="270.88" cy="607.87" r="1.22"/>
<circle cx="255.96" cy="622.7" r="1.22"/>
<circle cx="270.92" cy="613.67" r="1.22"/>
<circle cx="281.52" cy="610.36" r="1.22"/>
<circle cx="247.03" cy="622.37" r="1.22"/>
<circle cx="246.7" cy="617.95" r="1.22"/>
<circle cx="266.58" cy="619.15" r="1.22"/>
<circle cx="249.83" cy="616.3" r="1.22"/>
<circle cx="255.18" cy="613.01" r="1.22"/>
<circle cx="248.83" cy="623.17" r="1.22"/>
<circle cx="253.43" cy="626.23" r="1.22"/>
<circle cx="252.56" cy="616.13" r="1.22"/>
<circle cx="240.2" cy="616.87" r="1.22"/>
<circle cx="270.62" cy="617.66" r="1.22"/>
<circle cx="255.47" cy="618.43" r="1.22"/>
<circle cx="264.01" cy="619.55" r="1.22"/>
<circle cx="250.23" cy="622.69" r="1.22"/>
<circle cx="254.68" cy="615.6" r="1.22"/>
<circle cx="260.13" cy="617.21" r="1.22"/>
<circle cx="241.68" cy="625.68" r="1.22"/>
<circle cx="255.08" cy="622.82" r="1.22"/>
<circle cx="258" cy="620.81" r="1.22"/>
<circle cx="243.19" cy="617.79" r="1.22"/>
<circle cx="268.94" cy="619.05" r="1.22"/>
<circle cx="265.86" cy="622.23" r="1.22"/>
<circle cx="245.98" cy="623.47" r="1.22"/>
<circle cx="275.67" cy="614.88" r="1.22"/>
<circle cx="243.19" cy="621.69" r="1.22"/>
<circle cx="253.31" cy="624.36" r="1.22"/>
<circle cx="263.1" cy="627.5" r="1.22"/>
<circle cx="240.49" cy="631.97" r="1.22"/>
<circle cx="270.88" cy="614.97" r="1.22"/>
<circle cx="253.06" cy="624.16" r="1.22"/>
<circle cx="266.44" cy="609.62" r="1.22"/>
<circle cx="251.86" cy="619.11" r="1.22"/>
<circle cx="256.12" cy="617.51" r="1.22"/>
<circle cx="260.75" cy="614.39" r="1.22"/>
<circle cx="263.36" cy="620.24" r="1.22"/>
<circle cx="258.39" cy="616.66" r="1.22"/>
<circle cx="252.41" cy="619.98" r="1.22"/>
<circle cx="250.02" cy="614.05" r="1.22"/>
<circle cx="276.09" cy="618.9" r="1.22"/>
<circle cx="268.63" cy="615.05" r="1.22"/>
<circle cx="260.65" cy="619.58" r="1.22"/>
<circle cx="262.51" cy="611.98" r="1.22"/>
<circle cx="246.78" cy="616.16" r="1.22"/>
<circle cx="256.91" cy="625.34" r="1.22"/>
<circle cx="259.18" cy="614.95" r="1.22"/>
<circle cx="258.76" cy="616.99" r="1.22"/>
<circle cx="256.17" cy="622.37" r="1.22"/>
<circle cx="270.25" cy="620.81" r="1.22"/>
<circle cx="270.19" cy="613.67" r="1.22"/>
<circle cx="256.79" cy="620.44" r="1.22"/>
<circle cx="256.68" cy="619.41" r="1.22"/>
<circle cx="259.23" cy="619.31" r="1.22"/>
<circle cx="239.4" cy="635.71" r="1.22"/>
<circle cx="263.3" cy="620.95" r="1.22"/>
<circle cx="253.76" cy="620.94" r="1.22"/>
<circle cx="248.15" cy="612.84" r="1.22"/>
<circle cx="259.7" cy="619.36" r="1.22"/>
<circle cx="248.68" cy="616.41" r="1.22"/>
<circle cx="267.3" cy="608.02" r="1.22"/>
<circle cx="269.08" cy="620.4" r="1.22"/>
<circle cx="246.51" cy="614.3" r="1.22"/>
<circle cx="252.67" cy="620.88" r="1.22"/>
<circle cx="258.11" cy="616.02" r="1.22"/>
<circle cx="265.48" cy="622.59" r="1.22"/>
<circle cx="253.05" cy="629.85" r="1.22"/>
<circle cx="265.57" cy="617.69" r="1.22"/>
<circle cx="242.18" cy="617.32" r="1.22"/>
<circle cx="259.87" cy="623.95" r="1.22"/>
<circle cx="255.45" cy="622.78" r="1.22"/>
<circle cx="260.84" cy="616.92" r="1.22"/>
<circle cx="253.78" cy="617.6" r="1.22"/>
<circle cx="266.49" cy="611.25" r="1.22"/>
<circle cx="268.08" cy="621.89" r="1.22"/>
<circle cx="242.23" cy="624.97" r="1.22"/>
<circle cx="252.07" cy="629.73" r="1.22"/>
<circle cx="261.22" cy="620.47" r="1.22"/>
<circle cx="264.89" cy="615.93" r="1.22"/>
<circle cx="267.85" cy="619.49" r="1.22"/>
<circle cx="247.3" cy="628.18" r="1.22"/>
<circle cx="245.95" cy="610.02" r="1.22"/>
<circle cx="274.24" cy="617.88" r="1.22"/>
<circle cx="273.82" cy="620.5" r="1.22"/>
<circle cx="254.04" cy="624.09" r="1.22"/>
<circle cx="257.69" cy="615.36" r="1.22"/>
<circle cx="280.56" cy="608.75" r="1.22"/>
<circle cx="258.48" cy="617.9" r="1.22"/>
<circle cx="257.25" cy="617.07" r="1.22"/>
<circle cx="250.65" cy="619.51" r="1.22"/>
<circle cx="264.29" cy="612.01" r="1.22"/>
<circle cx="251.06" cy="618.47" r="1.22"/>
<circle cx="262.46" cy="622.2" r="1.22"/>
<circle cx="239.24" cy="627.04" r="1.22"/>
<circle cx="268.55" cy="617.64" r="1.22"/>
<circle cx="252.13" cy="621.08" r="1.22"/>
<circle cx="264.28" cy="614.6" r="1.22"/>
<circle cx="257.1" cy="616.68" r="1.22"/>
<circle cx="261.24" cy="620.67" r="1.22"/>
<circle cx="241.22" cy="622.52" r="1.22"/>
<circle cx="255.34" cy="619.94" r="1.22"/>
<circle cx="253.89" cy="615.82" r="1.22"/>
<circle cx="270.54" cy="619.41" r="1.22"/>
<circle cx="245.44" cy="620.62" r="1.22"/>
<circle cx="273.71" cy="612.46" r="1.22"/>
<circle cx="264.47" cy="624.9" r="1.22"/>
<circle cx="253.85" cy="616.9" r="1.22"/>
<circle cx="263.28" cy="617.59" r="1.22"/>
<circle cx="265.36" cy="612.3" r="1.22"/>
<circle cx="260.38" cy="622.22" r="1.22"/>
<circle cx="245.08" cy="621.32" r="1.22"/>
<circle cx="257.73" cy="620.03" r="1.22"/>
<circle cx="270.83" cy="619.11" r="1.22"/>
<circle cx="256.7" cy="615.76" r="1.22"/>
<circle cx="250.41" cy="632.78" r="1.22"/>
<circle cx="253.86" cy="615.66" r="1.22"/>
<circle cx="253.31" cy="621.6" r="1.22"/>
<circle cx="240.52" cy="617.18" r="1.22"/>
<circle cx="241.62" cy="627.05" r="1.22"/>
<circle cx="257.63" cy="608.47" r="1.22"/>
<circle cx="260.6" cy="622.22" r="1.22"/>
<circle cx="244.21" cy="624.4" r="1.22"/>
<circle cx="246.92" cy="625.37" r="1.22"/>
<circle cx="259.93" cy="611.83" r="1.22"/>
<circle cx="248.17" cy="614.2" r="1.22"/>
<circle cx="239.64" cy="613.37" r="1.22"/>
<circle cx="252.82" cy="622.43" r="1.22"/>
<circle cx="254.6" cy="618.66" r="1.22"/>
<circle cx="258.87" cy="620.57" r="1.22"/>
<circle cx="252.33" cy="623.51" r="1.22"/>
<circle cx="260.02" cy="621.37" r="1.22"/>
<circle cx="252.41" cy="628.37" r="1.22"/>
<circle cx="259.7" cy="615.88" r="1.22"/>
<circle cx="249.03" cy="616" r="1.22"/>
<circle cx="259.05" cy="618.17" r="1.22"/>
<circle cx="242.1" cy="619.93" r="1.22"/>
<circle cx="253.21" cy="620.62" r="1.22"/>
<circle cx="266.95" cy="613.71" r="1.22"/>
<circle cx="252.97" cy="620.02" r="1.22"/>
<circle cx="269.36" cy="612.9" r="1.22"/>
<circle cx="258.86" cy="613.11" r="1.22"/>
<circle cx="244.36" cy="620.31" r="1.22"/>
<circle cx="252.75" cy="622.39" r="1.22"/>
<circle cx="267.63" cy="606.96" r="1.22"/>
<circle cx="264.03" cy="616.68" r="1.22"/>
<circle cx="276.14" cy="610" r="1.22"/>
<circle cx="237.11" cy="627.9" r="1.22"/>
<circle cx="252.77" cy="624.03" r="1.22"/>
<circle cx="244.37" cy="619.15" r="1.22"/>
<circle cx="261.27" cy="608.66" r="1.22"/>
<circle cx="256.67" cy="618.65" r="1.22"/>
<circle cx="251.99" cy="615.05" r="1.22"/>
<circle cx="272.33" cy="606.01" r="1.22"/>
<circle cx="269.88" cy="618.83" r="1.22"/>
<circle cx="271.82" cy="620.07" r="1.22"/>
<circle cx="253.42" cy="621.14" r="1.22"/>
<circle cx="280.69" cy="616.56" r="1.22"/>
<circle cx="249.69" cy="619.83" r="1.22"/>
<circle cx="271.62" cy="612.16" r="1.22"/>
<circle cx="265.24" cy="621.42" r="1.22"/>
<circle cx="255.8" cy="612.57" r="1.22"/>
<circle cx="260.78" cy="621.56" r="1.22"/>
<circle cx="295.45" cy="577.47" r="1.22"/>
<circle cx="292.9" cy="587.34" r="1.22"/>
<circle cx="315.71" cy="595.76" r="1.22"/>
<circle cx="287.43" cy="599.37" r="1.22"/>
<circle cx="300.2" cy="601.77" r="1.22"/>
<circle cx="302.03" cy="602.37" r="1.22"/>
<circle cx="309.32" cy="606.58" r="1.22"/>
<circle cx="312.97" cy="605.38" r="1.22"/>
<circle cx="314.8" cy="601.17" r="1.22"/>
<circle cx="303.85" cy="613.8" r="1.22"/>
<circle cx="302.03" cy="610.19" r="1.22"/>
<circle cx="298.38" cy="606.58" r="1.22"/>
<circle cx="291.07" cy="608.99" r="1.22"/>
<circle cx="285.6" cy="611.39" r="1.22"/>
<circle cx="289.25" cy="610.19" r="1.22"/>
<circle cx="281.95" cy="616.21" r="1.22"/>
<circle cx="311.15" cy="604.18" r="1.22"/>
<circle cx="285.6" cy="633.05" r="1.22"/>
<circle cx="272.82" cy="634.25" r="1.22"/>
<circle cx="263.7" cy="639.06" r="1.22"/>
<circle cx="307.5" cy="611.39" r="1.22"/>
<circle cx="294.72" cy="605.38" r="1.22"/>
<line x1="237.24" y1="625.23" x2="314.8" y2="601.17" stroke="#000" stroke-width="1.5"/>
<line x1="397.8" y1="553.8" x2="397.8" y2="653.9" stroke="#000" stroke-width="1.45"/>
<line x1="397.2" y1="653.3" x2="508.6" y2="653.3" stroke="#000" stroke-width="1.45"/>
<line x1="397.8" y1="653.3" x2="397.8" y2="656.1" stroke="#000" stroke-width="1.25"/>
<text x="397.8" y="666.8" font-size="7.6" text-anchor="middle">12</text>
<line x1="434" y1="653.3" x2="434" y2="656.1" stroke="#000" stroke-width="1.25"/>
<text x="434" y="666.8" font-size="7.6" text-anchor="middle">14</text>
<line x1="470.2" y1="653.3" x2="470.2" y2="656.1" stroke="#000" stroke-width="1.25"/>
<text x="470.2" y="666.8" font-size="7.6" text-anchor="middle">16</text>
<line x1="506.4" y1="653.3" x2="506.4" y2="656.1" stroke="#000" stroke-width="1.25"/>
<text x="506.4" y="666.8" font-size="7.6" text-anchor="middle">18</text>
<line x1="394.8" y1="557" x2="397.8" y2="557" stroke="#000" stroke-width="1.25"/>
<text x="392" y="559.55" font-size="7.6" text-anchor="end">15</text>
<line x1="394.8" y1="597.1" x2="397.8" y2="597.1" stroke="#000" stroke-width="1.25"/>
<text x="392" y="599.65" font-size="7.6" text-anchor="end">10</text>
<line x1="394.8" y1="637.2" x2="397.8" y2="637.2" stroke="#000" stroke-width="1.25"/>
<text x="392" y="639.75" font-size="7.6" text-anchor="end">5</text>
<text x="455.4" y="680.2" font-size="9.8" text-anchor="middle" textLength="72.7" lengthAdjust="spacingAndGlyphs"><tspan font-style="italic">CALR</tspan> mRNA levels</text>
<text x="376.4" y="603.3" font-size="9.6" text-anchor="middle" textLength="74.8" lengthAdjust="spacingAndGlyphs" transform="rotate(-90 376.4 603.3)"><tspan font-style="italic">DDIT3</tspan> mRNA levels</text>
<text x="480.8" y="640.6" font-size="6.2" textLength="26" lengthAdjust="spacingAndGlyphs"><tspan font-style="italic">p</tspan>&lt;0.0001</text>
<text x="480.8" y="648.6" font-size="6.2" textLength="23.6" lengthAdjust="spacingAndGlyphs">R=0.377</text>
<circle cx="416.75" cy="620.59" r="1.22"/>
<circle cx="432.75" cy="618.93" r="1.22"/>
<circle cx="417.36" cy="626.97" r="1.22"/>
<circle cx="434.85" cy="616.36" r="1.22"/>
<circle cx="421.49" cy="622.93" r="1.22"/>
<circle cx="418.84" cy="617.87" r="1.22"/>
<circle cx="442.74" cy="616.01" r="1.22"/>
<circle cx="426.76" cy="610.8" r="1.22"/>
<circle cx="426.2" cy="615.59" r="1.22"/>
<circle cx="416.8" cy="623" r="1.22"/>
<circle cx="412.24" cy="612.7" r="1.22"/>
<circle cx="440.88" cy="616.67" r="1.22"/>
<circle cx="427.4" cy="618.1" r="1.22"/>
<circle cx="427.99" cy="611.43" r="1.22"/>
<circle cx="442.67" cy="619.01" r="1.22"/>
<circle cx="435.75" cy="610.61" r="1.22"/>
<circle cx="429.84" cy="610.45" r="1.22"/>
<circle cx="441.61" cy="613.03" r="1.22"/>
<circle cx="426.14" cy="610.15" r="1.22"/>
<circle cx="431.37" cy="612.27" r="1.22"/>
<circle cx="449.26" cy="609.73" r="1.22"/>
<circle cx="429.26" cy="622.64" r="1.22"/>
<circle cx="433.5" cy="612.21" r="1.22"/>
<circle cx="435.82" cy="610.72" r="1.22"/>
<circle cx="436.95" cy="612.36" r="1.22"/>
<circle cx="431.38" cy="611.21" r="1.22"/>
<circle cx="423.21" cy="621.39" r="1.22"/>
<circle cx="420.23" cy="615.63" r="1.22"/>
<circle cx="412.54" cy="620.18" r="1.22"/>
<circle cx="428.12" cy="613.27" r="1.22"/>
<circle cx="419.82" cy="615.93" r="1.22"/>
<circle cx="430.39" cy="617.78" r="1.22"/>
<circle cx="430.67" cy="615.69" r="1.22"/>
<circle cx="419.07" cy="618.37" r="1.22"/>
<circle cx="421.15" cy="605.21" r="1.22"/>
<circle cx="427.71" cy="618.73" r="1.22"/>
<circle cx="415.78" cy="616.96" r="1.22"/>
<circle cx="433.64" cy="614" r="1.22"/>
<circle cx="416.56" cy="622.72" r="1.22"/>
<circle cx="419.34" cy="615.26" r="1.22"/>
<circle cx="421.75" cy="616.51" r="1.22"/>
<circle cx="447.63" cy="622.83" r="1.22"/>
<circle cx="427.46" cy="615.31" r="1.22"/>
<circle cx="415.15" cy="610.98" r="1.22"/>
<circle cx="427.34" cy="613.02" r="1.22"/>
<circle cx="435.69" cy="605.77" r="1.22"/>
<circle cx="423.59" cy="619.35" r="1.22"/>
<circle cx="417.46" cy="623.86" r="1.22"/>
<circle cx="447.83" cy="614.69" r="1.22"/>
<circle cx="412.88" cy="613.38" r="1.22"/>
<circle cx="447.38" cy="617.74" r="1.22"/>
<circle cx="429.52" cy="622.88" r="1.22"/>
<circle cx="410.13" cy="618.88" r="1.22"/>
<circle cx="418.23" cy="623.43" r="1.22"/>
<circle cx="430.08" cy="612.52" r="1.22"/>
<circle cx="427.79" cy="607.75" r="1.22"/>
<circle cx="423.53" cy="617.76" r="1.22"/>
<circle cx="449.96" cy="606.27" r="1.22"/>
<circle cx="431.27" cy="622.41" r="1.22"/>
<circle cx="444.49" cy="613.12" r="1.22"/>
<circle cx="410.49" cy="611.29" r="1.22"/>
<circle cx="431.59" cy="617.75" r="1.22"/>
<circle cx="431.45" cy="614.55" r="1.22"/>
<circle cx="432.85" cy="624.76" r="1.22"/>
<circle cx="430.15" cy="612.22" r="1.22"/>
<circle cx="417.55" cy="609.18" r="1.22"/>
<circle cx="428.32" cy="627" r="1.22"/>
<circle cx="445.83" cy="614.62" r="1.22"/>
<circle cx="430.4" cy="615.91" r="1.22"/>
<circle cx="449.29" cy="611.68" r="1.22"/>
<circle cx="422.97" cy="619.64" r="1.22"/>
<circle cx="435.67" cy="610.43" r="1.22"/>
<circle cx="423.29" cy="610.31" r="1.22"/>
<circle cx="423.11" cy="614.89" r="1.22"/>
<circle cx="435.31" cy="612.33" r="1.22"/>
<circle cx="432.64" cy="612.74" r="1.22"/>
<circle cx="424.96" cy="614.25" r="1.22"/>
<circle cx="433.34" cy="621.51" r="1.22"/>
<circle cx="415.71" cy="615.16" r="1.22"/>
<circle cx="429.68" cy="613.85" r="1.22"/>
<circle cx="437.42" cy="611.44" r="1.22"/>
<circle cx="424.59" cy="612.48" r="1.22"/>
<circle cx="422.93" cy="605.79" r="1.22"/>
<circle cx="440.33" cy="613.16" r="1.22"/>
<circle cx="423.46" cy="612.87" r="1.22"/>
<circle cx="428.36" cy="619.41" r="1.22"/>
<circle cx="435.14" cy="613.39" r="1.22"/>
<circle cx="438.56" cy="614.5" r="1.22"/>
<circle cx="449.1" cy="601.79" r="1.22"/>
<circle cx="420.6" cy="607.23" r="1.22"/>
<circle cx="436.56" cy="612.97" r="1.22"/>
<circle cx="432.8" cy="621.39" r="1.22"/>
<circle cx="431.88" cy="620.36" r="1.22"/>
<circle cx="432.33" cy="616.35" r="1.22"/>
<circle cx="424.88" cy="618.48" r="1.22"/>
<circle cx="435.92" cy="602.71" r="1.22"/>
<circle cx="412.99" cy="613.1" r="1.22"/>
<circle cx="426.06" cy="606.45" r="1.22"/>
<circle cx="441.16" cy="617.87" r="1.22"/>
<circle cx="430.91" cy="606.32" r="1.22"/>
<circle cx="446.52" cy="615.75" r="1.22"/>
<circle cx="420.04" cy="614.54" r="1.22"/>
<circle cx="443.34" cy="607.27" r="1.22"/>
<circle cx="433.28" cy="611.14" r="1.22"/>
<circle cx="435.3" cy="613.54" r="1.22"/>
<circle cx="421.04" cy="612" r="1.22"/>
<circle cx="434.21" cy="608.97" r="1.22"/>
<circle cx="429.7" cy="617.74" r="1.22"/>
<circle cx="437.46" cy="608.62" r="1.22"/>
<circle cx="447.79" cy="619.77" r="1.22"/>
<circle cx="425.52" cy="616.82" r="1.22"/>
<circle cx="451.38" cy="624.86" r="1.22"/>
<circle cx="439.35" cy="617.89" r="1.22"/>
<circle cx="419.68" cy="611.42" r="1.22"/>
<circle cx="417.65" cy="616.65" r="1.22"/>
<circle cx="424.87" cy="609.1" r="1.22"/>
<circle cx="421.66" cy="617.61" r="1.22"/>
<circle cx="408.1" cy="615.02" r="1.22"/>
<circle cx="430.15" cy="610.6" r="1.22"/>
<circle cx="422.85" cy="605.3" r="1.22"/>
<circle cx="423.35" cy="605.77" r="1.22"/>
<circle cx="447.81" cy="617.52" r="1.22"/>
<circle cx="431.67" cy="618.43" r="1.22"/>
<circle cx="411.84" cy="614.48" r="1.22"/>
<circle cx="429.83" cy="607.19" r="1.22"/>
<circle cx="445.45" cy="622.56" r="1.22"/>
<circle cx="426.51" cy="613.23" r="1.22"/>
<circle cx="438" cy="612.87" r="1.22"/>
<circle cx="421.75" cy="617.69" r="1.22"/>
<circle cx="435.93" cy="621.72" r="1.22"/>
<circle cx="415.98" cy="624.71" r="1.22"/>
<circle cx="422.65" cy="608.74" r="1.22"/>
<circle cx="424.61" cy="612" r="1.22"/>
<circle cx="442.66" cy="606.38" r="1.22"/>
<circle cx="431.5" cy="615.7" r="1.22"/>
<circle cx="428.73" cy="617.3" r="1.22"/>
<circle cx="421.93" cy="613.77" r="1.22"/>
<circle cx="438.16" cy="617.39" r="1.22"/>
<circle cx="420.16" cy="616.92" r="1.22"/>
<circle cx="429.26" cy="610.83" r="1.22"/>
<circle cx="431.04" cy="614.53" r="1.22"/>
<circle cx="413.97" cy="620.44" r="1.22"/>
<circle cx="425.78" cy="619.66" r="1.22"/>
<circle cx="433.5" cy="614.71" r="1.22"/>
<circle cx="421.32" cy="614.19" r="1.22"/>
<circle cx="428.33" cy="618.34" r="1.22"/>
<circle cx="437.51" cy="604.42" r="1.22"/>
<circle cx="423.61" cy="612.49" r="1.22"/>
<circle cx="426.92" cy="610.58" r="1.22"/>
<circle cx="422.18" cy="618.91" r="1.22"/>
<circle cx="426.46" cy="616.75" r="1.22"/>
<circle cx="416.62" cy="618.78" r="1.22"/>
<circle cx="420.97" cy="605.83" r="1.22"/>
<circle cx="442.58" cy="616.88" r="1.22"/>
<circle cx="424.38" cy="614.07" r="1.22"/>
<circle cx="423.68" cy="619.43" r="1.22"/>
<circle cx="435.73" cy="608.02" r="1.22"/>
<circle cx="433.85" cy="606.57" r="1.22"/>
<circle cx="429.57" cy="616.02" r="1.22"/>
<circle cx="425.11" cy="618.61" r="1.22"/>
<circle cx="421.18" cy="608.42" r="1.22"/>
<circle cx="437.91" cy="614.96" r="1.22"/>
<circle cx="429.74" cy="620.48" r="1.22"/>
<circle cx="435.2" cy="615.59" r="1.22"/>
<circle cx="427.37" cy="617.55" r="1.22"/>
<circle cx="414.21" cy="620.98" r="1.22"/>
<circle cx="443.97" cy="618.1" r="1.22"/>
<circle cx="419.9" cy="618.4" r="1.22"/>
<circle cx="419.62" cy="622.77" r="1.22"/>
<circle cx="417.41" cy="622.89" r="1.22"/>
<circle cx="414.7" cy="625.56" r="1.22"/>
<circle cx="428.88" cy="620.92" r="1.22"/>
<circle cx="432.55" cy="619.93" r="1.22"/>
<circle cx="439.18" cy="624.22" r="1.22"/>
<circle cx="446.9" cy="620.23" r="1.22"/>
<circle cx="425.34" cy="622.17" r="1.22"/>
<circle cx="426.07" cy="607.59" r="1.22"/>
<circle cx="436.8" cy="617.47" r="1.22"/>
<circle cx="433.59" cy="605.03" r="1.22"/>
<circle cx="435.17" cy="616.42" r="1.22"/>
<circle cx="468.03" cy="571.44" r="1.22"/>
<circle cx="472.01" cy="585.07" r="1.22"/>
<circle cx="455.72" cy="585.87" r="1.22"/>
<circle cx="475.63" cy="591.49" r="1.22"/>
<circle cx="453.91" cy="594.69" r="1.22"/>
<circle cx="459.34" cy="597.9" r="1.22"/>
<circle cx="458.44" cy="599.11" r="1.22"/>
<circle cx="486.49" cy="600.31" r="1.22"/>
<circle cx="485.59" cy="619.56" r="1.22"/>
<circle cx="454.45" cy="632.39" r="1.22"/>
<circle cx="417.71" cy="601.11" r="1.22"/>
<circle cx="470.2" cy="602.71" r="1.22"/>
<circle cx="473.82" cy="611.54" r="1.22"/>
<circle cx="470.2" cy="617.15" r="1.22"/>
<circle cx="479.25" cy="612.34" r="1.22"/>
<circle cx="466.58" cy="609.93" r="1.22"/>
<circle cx="484.68" cy="602.71" r="1.22"/>
<circle cx="461.15" cy="613.14" r="1.22"/>
<circle cx="453.91" cy="618.75" r="1.22"/>
<circle cx="475.63" cy="617.15" r="1.22"/>
<circle cx="452.1" cy="609.13" r="1.22"/>
<circle cx="462.96" cy="604.32" r="1.22"/>
<circle cx="450.29" cy="605.12" r="1.22"/>
<line x1="446.67" y1="612.34" x2="486.49" y2="605.52" stroke="#000" stroke-width="1.5"/>
<line x1="61.6" y1="725" x2="61.6" y2="754.6" stroke="#000" stroke-width="1.45"/>
<line x1="58.3" y1="728.2" x2="61.6" y2="728.2" stroke="#000" stroke-width="1.25"/>
<text x="54.2" y="730.9" font-size="7.9" text-anchor="end">600</text>
<line x1="58.3" y1="735.5" x2="61.6" y2="735.5" stroke="#000" stroke-width="1.25"/>
<text x="54.2" y="738.2" font-size="7.9" text-anchor="end">450</text>
<line x1="58.3" y1="743" x2="61.6" y2="743" stroke="#000" stroke-width="1.25"/>
<text x="54.2" y="745.7" font-size="7.9" text-anchor="end">300</text>
<line x1="58.3" y1="750.1" x2="61.6" y2="750.1" stroke="#000" stroke-width="1.25"/>
<text x="54.2" y="752.8" font-size="7.9" text-anchor="end">150</text>
<line x1="58.3" y1="754.6" x2="64.2" y2="754.6" stroke="#000" stroke-width="1.25"/>
<line x1="61.6" y1="760.7" x2="61.6" y2="868.7" stroke="#000" stroke-width="1.45"/>
<line x1="58.3" y1="761.2" x2="64.2" y2="761.2" stroke="#000" stroke-width="1.25"/>
<line x1="58.3" y1="868.1" x2="61.6" y2="868.1" stroke="#000" stroke-width="1.25"/>
<text x="54.4" y="870.9" font-size="7.9" text-anchor="end">0</text>
<line x1="58.3" y1="832.47" x2="61.6" y2="832.47" stroke="#000" stroke-width="1.25"/>
<text x="54.4" y="835.27" font-size="7.9" text-anchor="end">20</text>
<line x1="58.3" y1="796.83" x2="61.6" y2="796.83" stroke="#000" stroke-width="1.25"/>
<text x="54.4" y="799.63" font-size="7.9" text-anchor="end">40</text>
<line x1="58.3" y1="761.2" x2="61.6" y2="761.2" stroke="#000" stroke-width="1.25"/>
<text x="54.4" y="764" font-size="7.9" text-anchor="end">60</text>
<line x1="58.3" y1="868.1" x2="246.9" y2="868.1" stroke="#000" stroke-width="1.45"/>
<line x1="84.1" y1="868.1" x2="84.1" y2="871.1" stroke="#000" stroke-width="1.25"/>
<text x="84.1" y="881.6" font-size="9.4" text-anchor="middle" textLength="11.2" lengthAdjust="spacingAndGlyphs">HD</text>
<line x1="130" y1="868.1" x2="130" y2="871.1" stroke="#000" stroke-width="1.25"/>
<text x="130" y="881.6" font-size="9.4" text-anchor="middle" textLength="16" lengthAdjust="spacingAndGlyphs">Prior</text>
<line x1="176.4" y1="868.1" x2="176.4" y2="871.1" stroke="#000" stroke-width="1.25"/>
<text x="176.4" y="881.6" font-size="9.4" text-anchor="middle" textLength="16" lengthAdjust="spacingAndGlyphs">Post</text>
<line x1="222.6" y1="868.1" x2="222.6" y2="871.1" stroke="#000" stroke-width="1.25"/>
<text x="222.6" y="881.6" font-size="9.4" text-anchor="middle" textLength="35" lengthAdjust="spacingAndGlyphs">Recovery</text>
<text x="35.4" y="796.8" font-size="10" text-anchor="middle" textLength="109.5" lengthAdjust="spacingAndGlyphs" transform="rotate(-90 35.4 796.8)">Circulating HMGB1 (ng/mL)</text>
<polyline points="84.2,731 84.2,728.2 129.6,728.2 129.6,731" fill="none" stroke="#000" stroke-width="1.25"/>
<text x="94.3" y="724.3" font-size="8.8" textLength="23.7" lengthAdjust="spacingAndGlyphs"><tspan font-style="italic">p</tspan>&lt;0.01</text>
<polyline points="130,722.8 130,720 175.5,720 175.5,722.8" fill="none" stroke="#000" stroke-width="1.25"/>
<text x="140" y="715.6" font-size="8.8" textLength="23.7" lengthAdjust="spacingAndGlyphs"><tspan font-style="italic">p</tspan>&lt;0.01</text>
<polyline points="177,730.4 177,727.6 222.5,727.6 222.5,730.4" fill="none" stroke="#000" stroke-width="1.25"/>
<text x="188" y="723.8" font-size="8.8" textLength="24" lengthAdjust="spacingAndGlyphs"><tspan font-style="italic">p</tspan>&lt;0.05</text>
<line x1="68.8" y1="849.7" x2="100" y2="849.7" stroke="#000" stroke-width="1.45"/>
<line x1="114.9" y1="805.5" x2="145.9" y2="805.5" stroke="#000" stroke-width="1.45"/>
<line x1="161.2" y1="846.5" x2="192.6" y2="846.5" stroke="#000" stroke-width="1.45"/>
<line x1="207.2" y1="859.7" x2="238.6" y2="859.7" stroke="#000" stroke-width="1.45"/>
<circle cx="71.72" cy="849.31" r="1.45"/>
<circle cx="75.76" cy="849.31" r="1.45"/>
<circle cx="78.45" cy="849.58" r="1.45"/>
<circle cx="80.47" cy="849.31" r="1.45"/>
<circle cx="83.16" cy="849.31" r="1.45"/>
<circle cx="86.53" cy="849.31" r="1.45"/>
<circle cx="89.22" cy="849.58" r="1.45"/>
<circle cx="91.91" cy="849.31" r="1.45"/>
<circle cx="95.95" cy="849.31" r="1.45"/>
<circle cx="77.78" cy="847.03" r="1.45"/>
<circle cx="89.89" cy="847.03" r="1.45"/>
<circle cx="84.1" cy="853.35" r="1.45"/>
<circle cx="84.1" cy="857.79" r="1.45"/>
<circle cx="80.07" cy="863.71" r="1.45"/>
<circle cx="87.87" cy="863.71" r="1.45"/>
<circle cx="84.1" cy="864.52" r="1.45"/>
<rect x="129.22" y="733.37" width="2.4" height="2.4"/>
<rect x="125.24" y="736.32" width="2.4" height="2.4"/>
<rect x="129.22" y="738.91" width="2.4" height="2.4"/>
<rect x="133.02" y="738.56" width="2.4" height="2.4"/>
<rect x="122.99" y="740.64" width="2.4" height="2.4"/>
<rect x="126.97" y="742.72" width="2.4" height="2.4"/>
<rect x="130.95" y="743.24" width="2.4" height="2.4"/>
<rect x="135.1" y="742.37" width="2.4" height="2.4"/>
<rect x="135.1" y="744.97" width="2.4" height="2.4"/>
<rect x="123.51" y="746.7" width="2.4" height="2.4"/>
<rect x="126.97" y="747.22" width="2.4" height="2.4"/>
<rect x="130.95" y="746.7" width="2.4" height="2.4"/>
<rect x="134.75" y="747.22" width="2.4" height="2.4"/>
<rect x="117.1" y="749.64" width="2.4" height="2.4"/>
<rect x="120.91" y="749.64" width="2.4" height="2.4"/>
<rect x="136.83" y="749.64" width="2.4" height="2.4"/>
<rect x="140.81" y="749.64" width="2.4" height="2.4"/>
<rect x="125.24" y="753.1" width="2.4" height="2.4"/>
<rect x="129.22" y="753.1" width="2.4" height="2.4"/>
<rect x="133.02" y="752.41" width="2.4" height="2.4"/>
<rect x="131.04" y="775.3" width="2.4" height="2.4"/>
<rect x="127.12" y="777.77" width="2.4" height="2.4"/>
<rect x="127.12" y="781.69" width="2.4" height="2.4"/>
<rect x="131.04" y="784.27" width="2.4" height="2.4"/>
<rect x="131.04" y="792.34" width="2.4" height="2.4"/>
<rect x="127.12" y="795.93" width="2.4" height="2.4"/>
<rect x="127.12" y="812.75" width="2.4" height="2.4"/>
<rect x="131.04" y="815.32" width="2.4" height="2.4"/>
<rect x="131.04" y="820.71" width="2.4" height="2.4"/>
<rect x="127.12" y="823.51" width="2.4" height="2.4"/>
<rect x="127.12" y="830.23" width="2.4" height="2.4"/>
<rect x="131.04" y="832.37" width="2.4" height="2.4"/>
<rect x="125.1" y="834.16" width="2.4" height="2.4"/>
<rect x="133.17" y="834.94" width="2.4" height="2.4"/>
<rect x="129.36" y="836.96" width="2.4" height="2.4"/>
<rect x="127.34" y="840.55" width="2.4" height="2.4"/>
<rect x="131.04" y="843.35" width="2.4" height="2.4"/>
<rect x="131.04" y="846.71" width="2.4" height="2.4"/>
<rect x="127.34" y="848.96" width="2.4" height="2.4"/>
<rect x="125.1" y="851.98" width="2.4" height="2.4"/>
<rect x="133.17" y="851.2" width="2.4" height="2.4"/>
<rect x="129.36" y="853.1" width="2.4" height="2.4"/>
<rect x="127.34" y="858.15" width="2.4" height="2.4"/>
<rect x="131.04" y="858.15" width="2.4" height="2.4"/>
<rect x="131.04" y="861.85" width="2.4" height="2.4"/>
<rect x="121.18" y="863.87" width="2.4" height="2.4"/>
<rect x="125.1" y="863.87" width="2.4" height="2.4"/>
<rect x="129.36" y="865.77" width="2.4" height="2.4"/>
<rect x="133.17" y="864.99" width="2.4" height="2.4"/>
<rect x="137.1" y="863.87" width="2.4" height="2.4"/>
<path d="M175.11 738.82L176.61 736.21L178.11 738.82Z"/>
<path d="M167.32 753.53L168.82 750.92L170.32 753.53Z"/>
<path d="M171.13 754.05L172.63 751.44L174.13 754.05Z"/>
<path d="M175.11 754.05L176.61 751.44L178.11 754.05Z"/>
<path d="M179.09 754.05L180.59 751.44L182.09 754.05Z"/>
<path d="M182.89 753.01L184.39 750.4L185.89 753.01Z"/>
<path d="M172.86 776.36L174.36 773.75L175.86 776.36Z"/>
<path d="M176.84 775.15L178.34 772.54L179.84 775.15Z"/>
<path d="M173.16 777.13L174.66 774.52L176.16 777.13Z"/>
<path d="M177.09 775.23L178.59 772.62L180.09 775.23Z"/>
<path d="M175.07 795.41L176.57 792.8L178.07 795.41Z"/>
<path d="M173.16 804.71L174.66 802.1L176.16 804.71Z"/>
<path d="M177.09 803.82L178.59 801.21L180.09 803.82Z"/>
<path d="M175.07 818.17L176.57 815.56L178.07 818.17Z"/>
<path d="M173.16 834.31L174.66 831.7L176.16 834.31Z"/>
<path d="M177.09 833.52L178.59 830.91L180.09 833.52Z"/>
<path d="M169.24 836.1L170.74 833.49L172.24 836.1Z"/>
<path d="M173.16 837.45L174.66 834.84L176.16 837.45Z"/>
<path d="M181.01 836.89L182.51 834.28L184.01 836.89Z"/>
<path d="M177.09 839.47L178.59 836.86L180.09 839.47Z"/>
<path d="M171.48 842.83L172.98 840.22L174.48 842.83Z"/>
<path d="M175.07 844.4L176.57 841.79L178.07 844.4Z"/>
<path d="M178.99 843.05L180.49 840.44L181.99 843.05Z"/>
<path d="M183.25 846.19L184.75 843.58L186.25 846.19Z"/>
<path d="M167 847.87L168.5 845.26L170 847.87Z"/>
<path d="M178.99 848.1L180.49 845.49L181.99 848.1Z"/>
<path d="M171.48 849.78L172.98 847.17L174.48 849.78Z"/>
<path d="M175.07 849.78L176.57 847.17L178.07 849.78Z"/>
<path d="M171.48 859.31L172.98 856.7L174.48 859.31Z"/>
<path d="M161.73 861.89L163.23 859.28L164.73 861.89Z"/>
<path d="M165.32 863.01L166.82 860.4L168.32 863.01Z"/>
<path d="M168.46 863.46L169.96 860.85L171.46 863.46Z"/>
<path d="M175.07 861.89L176.57 859.28L178.07 861.89Z"/>
<path d="M178.99 861.55L180.49 858.94L181.99 861.55Z"/>
<path d="M182.13 862.67L183.63 860.06L185.13 862.67Z"/>
<path d="M184.93 862.11L186.43 859.5L187.93 862.11Z"/>
<path d="M188.3 861.89L189.8 859.28L191.3 861.89Z"/>
<path d="M172.04 864.91L173.54 862.3L175.04 864.91Z"/>
<path d="M175.41 865.48L176.91 862.87L178.41 865.48Z"/>
<path d="M161.73 866.82L163.23 864.21L164.73 866.82Z"/>
<path d="M165.32 867.72L166.82 865.11L168.32 867.72Z"/>
<path d="M168.46 867.72L169.96 865.11L171.46 867.72Z"/>
<path d="M172.04 867.94L173.54 865.33L175.04 867.94Z"/>
<path d="M175.41 867.94L176.91 865.33L178.41 867.94Z"/>
<path d="M178.77 867.72L180.27 865.11L181.77 867.72Z"/>
<path d="M182.13 867.72L183.63 865.11L185.13 867.72Z"/>
<path d="M184.93 867.16L186.43 864.55L187.93 867.16Z"/>
<path d="M188.3 867.16L189.8 864.55L191.3 867.16Z"/>
<circle cx="222.72" cy="831.43" r="1.5"/>
<circle cx="222.72" cy="841.69" r="1.5"/>
<circle cx="215.11" cy="843.81" r="1.5"/>
<circle cx="230.77" cy="845.19" r="1.5"/>
<circle cx="219.13" cy="846.67" r="1.5"/>
<circle cx="222.72" cy="847.72" r="1.5"/>
<circle cx="226.75" cy="846.98" r="1.5"/>
<circle cx="209.29" cy="848.57" r="1.5"/>
<circle cx="212.99" cy="850.16" r="1.5"/>
<circle cx="217.01" cy="850.9" r="1.5"/>
<circle cx="220.93" cy="851.22" r="1.5"/>
<circle cx="224.95" cy="851.75" r="1.5"/>
<circle cx="228.86" cy="850.9" r="1.5"/>
<circle cx="232.57" cy="849.95" r="1.5"/>
<circle cx="236.48" cy="849.63" r="1.5"/>
<circle cx="224.95" cy="856.19" r="1.5"/>
<circle cx="220.93" cy="858.62" r="1.5"/>
<circle cx="226.75" cy="860.21" r="1.5"/>
<circle cx="219.13" cy="862.86" r="1.5"/>
<circle cx="223.04" cy="863.6" r="1.5"/>
<circle cx="208.23" cy="865.5" r="1.5"/>
<circle cx="210.34" cy="866.24" r="1.5"/>
<circle cx="212.46" cy="866.77" r="1.5"/>
<circle cx="214.58" cy="867.2" r="1.5"/>
<circle cx="216.69" cy="867.51" r="1.5"/>
<circle cx="218.81" cy="867.72" r="1.5"/>
<circle cx="220.93" cy="867.83" r="1.5"/>
<circle cx="223.04" cy="867.83" r="1.5"/>
<circle cx="225.16" cy="867.72" r="1.5"/>
<circle cx="227.28" cy="867.51" r="1.5"/>
<circle cx="229.39" cy="867.2" r="1.5"/>
<circle cx="231.51" cy="866.77" r="1.5"/>
<circle cx="233.62" cy="866.24" r="1.5"/>
<circle cx="235.74" cy="865.29" r="1.5"/>
<circle cx="237.12" cy="863.92" r="1.5"/></g>
</svg></body></html>
